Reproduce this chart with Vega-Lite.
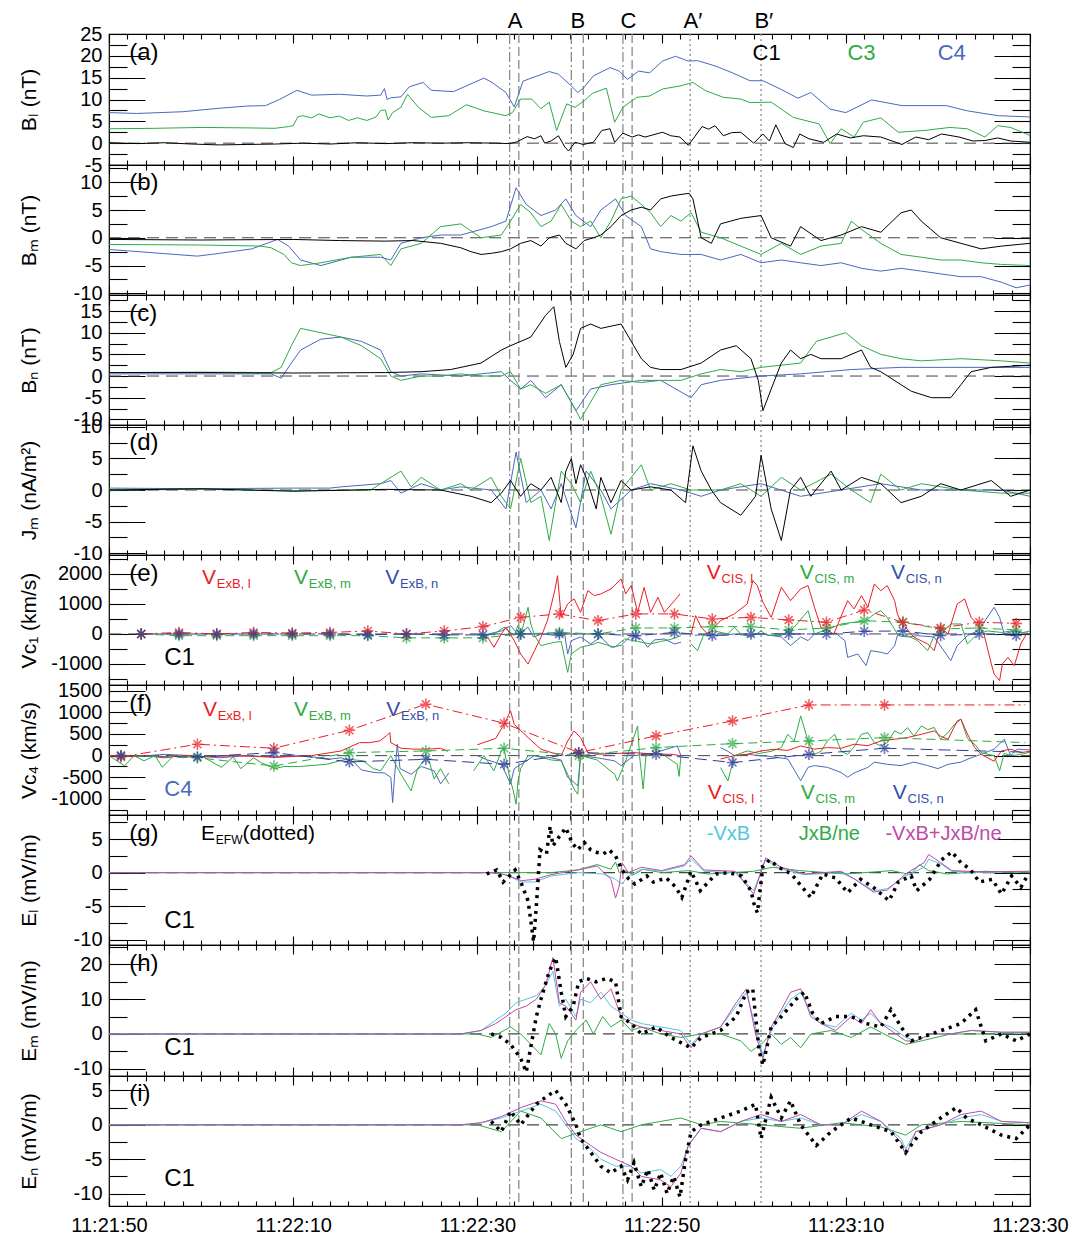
{
"$schema":"https://vega.github.io/schema/vega-lite/v6.json",
"padding":{"left":17,"top":9,"right":10,"bottom":5},
"background":"white",
"spacing":0,
"bounds":"flush",
"config":{"view":{"stroke":"black","strokeWidth":1.2},"legend":{"disable":true},
"axis":{"domain":false,"grid":false,"tickColor":"black","tickWidth":1.1,"labelFont":"Liberation Sans","labelFontSize":20,"labelColor":"black","labelPadding":7,"labelOverlap":false,"labelFlush":false,"labelBound":false,"titleFont":"Liberation Sans","titleFontSize":21,"titleFontWeight":"normal","titleColor":"black"},
"text":{"font":"Liberation Sans"}},
"datasets":{
"zero":[{"t0":0,"t1":100,"v":0}],
"vl":[{"t":43.5,"k":"dd"},{"t":44.5,"k":"d"},{"t":50.2,"k":"dd"},{"t":51.5,"k":"d"},{"t":55.8,"k":"dd"},{"t":56.8,"k":"d"},{"t":63.1,"k":"o"},{"t":70.8,"k":"o"}],
"a1":[{"t":0,"v":0.1},{"t":3,"v":-0.1},{"t":6,"v":0.1},{"t":9,"v":-0.2},{"t":12,"v":-0.4},{"t":15,"v":-0.3},{"t":18,"v":-0.2},{"t":21,"v":0},{"t":24,"v":-0.2},{"t":27,"v":0.1},{"t":30,"v":-0.1},{"t":33,"v":0.1},{"t":36,"v":0},{"t":39,"v":0.1},{"t":42,"v":0},{"t":43.5,"v":-0.1},{"t":44.3,"v":0.3},{"t":45.4,"v":1.5},{"t":46.2,"v":1.0},{"t":46.9,"v":1.7},{"t":47.3,"v":0},{"t":48.0,"v":0.5},{"t":48.8,"v":1.7},{"t":49.5,"v":-0.9},{"t":49.9,"v":-1.8},{"t":50.6,"v":0.2},{"t":51.5,"v":-0.3},{"t":52.6,"v":0.2},{"t":53.5,"v":2.9},{"t":54.4,"v":3.3},{"t":54.9,"v":0.2},{"t":55.8,"v":2.3},{"t":56.8,"v":1.4},{"t":57.5,"v":1.9},{"t":58.2,"v":1.4},{"t":60.1,"v":2.5},{"t":61.0,"v":1.7},{"t":62.0,"v":1.4},{"t":62.9,"v":-0.5},{"t":63.6,"v":1.5},{"t":64.4,"v":3.8},{"t":65.1,"v":3.2},{"t":65.8,"v":4.0},{"t":66.7,"v":1.7},{"t":67.6,"v":2.4},{"t":68.6,"v":2.5},{"t":70.0,"v":0},{"t":71.0,"v":2.1},{"t":71.7,"v":0.5},{"t":72.4,"v":4.2},{"t":73.4,"v":-0.1},{"t":74.3,"v":-1.0},{"t":75.0,"v":2.1},{"t":76.0,"v":1.0},{"t":77.6,"v":0.2},{"t":79.0,"v":2.1},{"t":80.5,"v":1.2},{"t":81.9,"v":1.7},{"t":83.8,"v":1.4},{"t":86.1,"v":-0.3},{"t":87.6,"v":1.4},{"t":89.0,"v":0.8},{"t":90.4,"v":2.1},{"t":92.3,"v":1.4},{"t":93.8,"v":0.5},{"t":95.1,"v":0.6},{"t":96.5,"v":1.2},{"t":97.9,"v":0.5},{"t":100,"v":0.2}],
"a3":[{"t":0,"v":3.3},{"t":5,"v":3.4},{"t":10,"v":3.6},{"t":15,"v":3.5},{"t":18,"v":3.4},{"t":19.5,"v":3.8},{"t":20.0,"v":4.0},{"t":20.5,"v":6.0},{"t":21.0,"v":6.3},{"t":22.0,"v":5.8},{"t":22.8,"v":6.7},{"t":24,"v":5.8},{"t":25,"v":6.2},{"t":26,"v":5.2},{"t":27,"v":5.8},{"t":28,"v":5.2},{"t":29,"v":6.0},{"t":29.5,"v":7.5},{"t":30.0,"v":7.6},{"t":30.3,"v":5.3},{"t":30.8,"v":7.0},{"t":31.7,"v":8.2},{"t":32.4,"v":11.2},{"t":33.6,"v":8.2},{"t":35.0,"v":5.9},{"t":36.9,"v":6.3},{"t":38.8,"v":8.8},{"t":40.7,"v":7.4},{"t":43.1,"v":6.3},{"t":43.8,"v":7.0},{"t":44.7,"v":10.1},{"t":45.9,"v":10.1},{"t":46.9,"v":7.9},{"t":47.8,"v":9.4},{"t":48.6,"v":2.9},{"t":49.7,"v":9.0},{"t":50.6,"v":8.2},{"t":51.6,"v":9.7},{"t":52.5,"v":11.4},{"t":54.0,"v":12.6},{"t":54.9,"v":4.8},{"t":55.8,"v":8.2},{"t":57.3,"v":10.5},{"t":58.7,"v":10.8},{"t":60.1,"v":12.4},{"t":62.0,"v":13.1},{"t":63.4,"v":13.9},{"t":64.8,"v":12.0},{"t":66.7,"v":10.5},{"t":68.6,"v":10.1},{"t":69.6,"v":9.3},{"t":71.9,"v":9.4},{"t":74.3,"v":5.9},{"t":77.1,"v":4.4},{"t":78.3,"v":-0.1},{"t":79.5,"v":3.3},{"t":80.9,"v":1.4},{"t":81.9,"v":4.8},{"t":83.8,"v":5.8},{"t":85.7,"v":2.5},{"t":88.5,"v":2.9},{"t":91.3,"v":3.6},{"t":93.2,"v":3.3},{"t":95.1,"v":1.4},{"t":96.5,"v":4.0},{"t":97.9,"v":3.6},{"t":100,"v":1.75}],
"a4":[{"t":0,"v":7.0},{"t":3,"v":6.8},{"t":8,"v":7.2},{"t":12,"v":8.0},{"t":15,"v":8.5},{"t":17,"v":8.6},{"t":18.5,"v":10.0},{"t":20.4,"v":12.1},{"t":22,"v":11.0},{"t":25,"v":11.2},{"t":28,"v":10.8},{"t":29.5,"v":11.0},{"t":29.9,"v":12.5},{"t":30.2,"v":10.0},{"t":30.6,"v":10.4},{"t":31.7,"v":10.6},{"t":32.6,"v":12.9},{"t":34.1,"v":13.9},{"t":35.0,"v":12.1},{"t":37.4,"v":11.8},{"t":40.7,"v":14.9},{"t":41.6,"v":13.9},{"t":43.1,"v":11.6},{"t":44.0,"v":8.3},{"t":44.95,"v":14.2},{"t":47.8,"v":16.4},{"t":48.8,"v":15.8},{"t":50.2,"v":13.1},{"t":50.9,"v":11.6},{"t":51.5,"v":12.6},{"t":52.6,"v":15.4},{"t":54.4,"v":17.3},{"t":55.4,"v":16.5},{"t":56.3,"v":14.6},{"t":57.5,"v":16.5},{"t":58.7,"v":16.1},{"t":60.1,"v":18.8},{"t":61.5,"v":19.9},{"t":62.9,"v":18.8},{"t":63.9,"v":18.9},{"t":65.8,"v":17.7},{"t":67.7,"v":16.1},{"t":69.6,"v":14.3},{"t":71.0,"v":14.3},{"t":72.9,"v":12.4},{"t":74.8,"v":10.3},{"t":76.2,"v":11.6},{"t":78.3,"v":7.8},{"t":80.0,"v":7.0},{"t":82.8,"v":9.9},{"t":86.1,"v":8.6},{"t":90.9,"v":8.6},{"t":93.2,"v":7.4},{"t":96.5,"v":6.3},{"t":100,"v":6.0}],
"b1":[{"t":0,"v":-0.3},{"t":10,"v":-0.4},{"t":20,"v":-0.3},{"t":25,"v":-0.5},{"t":30,"v":-0.6},{"t":33,"v":-0.5},{"t":36,"v":-1.0},{"t":38.2,"v":-1.8},{"t":39.3,"v":-2.5},{"t":40.4,"v":-3.0},{"t":41.5,"v":-2.8},{"t":42.6,"v":-2.5},{"t":43.6,"v":-2.0},{"t":44.7,"v":-1.0},{"t":45.8,"v":-0.5},{"t":46.9,"v":-1.5},{"t":47.8,"v":0},{"t":48.9,"v":0.5},{"t":49.6,"v":-1.0},{"t":50.7,"v":-2.0},{"t":51.6,"v":-0.5},{"t":52.6,"v":0},{"t":53.4,"v":0.5},{"t":54.5,"v":2.0},{"t":55.6,"v":4.0},{"t":56.7,"v":5.0},{"t":57.8,"v":5.5},{"t":58.8,"v":5.0},{"t":59.9,"v":7.0},{"t":61.0,"v":7.5},{"t":62.1,"v":7.8},{"t":63.0,"v":8.0},{"t":63.4,"v":7.0},{"t":64.3,"v":0},{"t":65.4,"v":-1.0},{"t":66.4,"v":2.5},{"t":68.6,"v":3.5},{"t":70.8,"v":4.0},{"t":71.9,"v":0},{"t":74.0,"v":-1.5},{"t":75.1,"v":2.0},{"t":77.3,"v":-0.5},{"t":79.5,"v":0.5},{"t":81.7,"v":2.0},{"t":83.8,"v":1.0},{"t":86.0,"v":4.5},{"t":87.1,"v":5.0},{"t":88.2,"v":3.0},{"t":90.3,"v":0},{"t":92.5,"v":-1.0},{"t":94.7,"v":-2.0},{"t":96.9,"v":-1.5},{"t":100,"v":-1.0}],
"b3":[{"t":0,"v":-1.2},{"t":10,"v":-1.3},{"t":16.5,"v":-1.5},{"t":17.6,"v":-1.8},{"t":19.0,"v":-3.0},{"t":19.8,"v":-4.5},{"t":20.8,"v":-5.0},{"t":23.0,"v":-4.5},{"t":26.3,"v":-3.5},{"t":29.5,"v":-3.0},{"t":30.6,"v":-5.0},{"t":31.7,"v":-2.0},{"t":33.9,"v":-1.0},{"t":36.0,"v":2.0},{"t":38.2,"v":2.5},{"t":40.4,"v":0},{"t":42.6,"v":0.5},{"t":43.6,"v":3.0},{"t":44.7,"v":6.0},{"t":45.8,"v":4.5},{"t":46.9,"v":2.0},{"t":48.0,"v":3.0},{"t":49.1,"v":6.0},{"t":50.2,"v":3.0},{"t":51.2,"v":2.0},{"t":52.3,"v":3.0},{"t":53.4,"v":0},{"t":54.5,"v":3.0},{"t":55.6,"v":7.0},{"t":56.7,"v":7.5},{"t":57.8,"v":6.0},{"t":58.8,"v":4.5},{"t":59.9,"v":2.0},{"t":61.0,"v":4.0},{"t":62.1,"v":3.0},{"t":63.2,"v":4.5},{"t":64.3,"v":1.0},{"t":66.4,"v":0},{"t":68.6,"v":-1.5},{"t":70.8,"v":-3.0},{"t":73.0,"v":-1.0},{"t":75.1,"v":-3.0},{"t":77.3,"v":-1.5},{"t":79.5,"v":-1.0},{"t":80.6,"v":3.0},{"t":81.7,"v":1.5},{"t":83.8,"v":-1.0},{"t":86.0,"v":-3.0},{"t":88.2,"v":-3.5},{"t":90.3,"v":-4.0},{"t":92.5,"v":-4.0},{"t":94.7,"v":-4.5},{"t":96.9,"v":-4.8},{"t":100,"v":-5.0}],
"b4":[{"t":0,"v":-2.1},{"t":9.6,"v":-3.3},{"t":12,"v":-2.8},{"t":15.5,"v":-2.0},{"t":18.3,"v":-0.3},{"t":19.5,"v":-1.5},{"t":20.8,"v":-4.0},{"t":23.0,"v":-5.0},{"t":26.3,"v":-3.5},{"t":29.5,"v":-3.5},{"t":30.6,"v":-4.0},{"t":31.7,"v":-1.0},{"t":33.9,"v":0},{"t":36.0,"v":0.5},{"t":38.2,"v":0.5},{"t":39.3,"v":1.0},{"t":41.5,"v":2.0},{"t":43.1,"v":3.0},{"t":44.2,"v":9.0},{"t":45.3,"v":6.0},{"t":46.9,"v":4.0},{"t":48.5,"v":5.0},{"t":49.6,"v":7.0},{"t":50.7,"v":4.0},{"t":52.3,"v":2.0},{"t":53.4,"v":5.0},{"t":55.0,"v":7.0},{"t":56.1,"v":4.0},{"t":57.8,"v":2.0},{"t":58.8,"v":-2.0},{"t":59.9,"v":-2.5},{"t":62.1,"v":-3.0},{"t":64.3,"v":-3.0},{"t":66.4,"v":-4.0},{"t":68.6,"v":-3.0},{"t":70.8,"v":-4.5},{"t":73.0,"v":-4.0},{"t":75.1,"v":-4.5},{"t":77.3,"v":-5.0},{"t":79.5,"v":-4.5},{"t":81.7,"v":-5.5},{"t":83.8,"v":-6.0},{"t":86.0,"v":-5.5},{"t":88.2,"v":-6.0},{"t":90.3,"v":-6.5},{"t":92.5,"v":-7.0},{"t":94.7,"v":-7.0},{"t":96.9,"v":-8.0},{"t":98.5,"v":-9.0},{"t":100,"v":-8.5}],
"c1":[{"t":0,"v":0.8},{"t":10,"v":0.8},{"t":20,"v":0.7},{"t":30,"v":0.8},{"t":33.9,"v":1.0},{"t":37.1,"v":1.5},{"t":40.4,"v":3.0},{"t":42.6,"v":6.0},{"t":43.6,"v":7.0},{"t":45.8,"v":9.0},{"t":47.4,"v":14.0},{"t":48.3,"v":16.0},{"t":48.9,"v":8.0},{"t":49.6,"v":2.0},{"t":50.4,"v":5.0},{"t":51.2,"v":11.0},{"t":52.3,"v":12.0},{"t":53.4,"v":11.0},{"t":54.5,"v":11.5},{"t":55.6,"v":12.0},{"t":56.7,"v":8.0},{"t":57.8,"v":4.0},{"t":58.8,"v":2.0},{"t":59.9,"v":1.5},{"t":62.1,"v":1.5},{"t":64.3,"v":3.0},{"t":66.4,"v":6.0},{"t":68.1,"v":7.0},{"t":69.7,"v":4.0},{"t":70.5,"v":-1.0},{"t":71.0,"v":-8.0},{"t":71.9,"v":-3.0},{"t":73.0,"v":3.0},{"t":74.0,"v":6.0},{"t":75.1,"v":4.0},{"t":76.2,"v":5.0},{"t":77.3,"v":4.0},{"t":79.5,"v":4.0},{"t":81.7,"v":6.0},{"t":82.7,"v":2.0},{"t":83.8,"v":1.0},{"t":86.0,"v":-2.0},{"t":87.1,"v":-3.5},{"t":89.3,"v":-5.0},{"t":91.4,"v":-5.0},{"t":92.5,"v":-2.0},{"t":93.6,"v":1.0},{"t":95.8,"v":2.0},{"t":100,"v":2.5}],
"c3":[{"t":0,"v":0.8},{"t":10,"v":0.9},{"t":17.6,"v":0.8},{"t":18.7,"v":2.0},{"t":19.8,"v":7.0},{"t":20.8,"v":11.0},{"t":23.0,"v":10.0},{"t":25.2,"v":9.0},{"t":27.4,"v":7.0},{"t":29.5,"v":4.0},{"t":30.6,"v":0},{"t":31.7,"v":-1.0},{"t":33.9,"v":0},{"t":36.0,"v":0},{"t":38.2,"v":0.5},{"t":40.4,"v":0},{"t":42.6,"v":0},{"t":43.6,"v":1.0},{"t":44.7,"v":-3.0},{"t":45.8,"v":-2.0},{"t":47.4,"v":-4.0},{"t":49.1,"v":-2.0},{"t":50.2,"v":-6.0},{"t":51.2,"v":-10.0},{"t":52.3,"v":-6.0},{"t":53.4,"v":-2.0},{"t":55.6,"v":-1.0},{"t":57.8,"v":-1.5},{"t":59.9,"v":-1.0},{"t":62.1,"v":-1.0},{"t":64.3,"v":0.5},{"t":66.4,"v":1.5},{"t":68.6,"v":1.0},{"t":70.8,"v":2.0},{"t":73.0,"v":2.5},{"t":75.1,"v":3.0},{"t":76.8,"v":8.0},{"t":78.4,"v":9.0},{"t":80.0,"v":10.0},{"t":81.7,"v":7.0},{"t":83.8,"v":5.0},{"t":86.0,"v":4.0},{"t":88.2,"v":3.5},{"t":92.5,"v":4.0},{"t":96.9,"v":3.5},{"t":100,"v":3.0}],
"c4":[{"t":0,"v":0.5},{"t":10,"v":0.5},{"t":17.6,"v":0.5},{"t":18.7,"v":-0.5},{"t":19.8,"v":3.0},{"t":20.8,"v":6.0},{"t":23.0,"v":8.5},{"t":25.2,"v":9.0},{"t":27.4,"v":8.0},{"t":29.5,"v":6.0},{"t":30.6,"v":1.0},{"t":31.7,"v":0},{"t":33.9,"v":0.5},{"t":38.2,"v":0},{"t":40.4,"v":0.5},{"t":42.6,"v":1.0},{"t":43.6,"v":-1.0},{"t":44.7,"v":-3.0},{"t":45.8,"v":-1.0},{"t":47.4,"v":-5.0},{"t":49.1,"v":-2.0},{"t":50.7,"v":-8.0},{"t":52.3,"v":-3.0},{"t":54.5,"v":-2.0},{"t":57.8,"v":-1.0},{"t":59.9,"v":-1.0},{"t":63.2,"v":-5.0},{"t":64.3,"v":-2.0},{"t":66.4,"v":-1.0},{"t":70.8,"v":0},{"t":75.1,"v":0.5},{"t":80.6,"v":1.5},{"t":86.0,"v":2.0},{"t":100,"v":2.0}],
"d1":[{"t":0,"v":0},{"t":10,"v":0.2},{"t":20,"v":-0.2},{"t":30,"v":0.1},{"t":36.0,"v":0},{"t":39.3,"v":-1.0},{"t":41.5,"v":-2.0},{"t":42.6,"v":-0.5},{"t":43.6,"v":1.5},{"t":44.7,"v":-1.0},{"t":45.8,"v":1.0},{"t":46.9,"v":0},{"t":48.0,"v":2.0},{"t":49.1,"v":-2.0},{"t":49.6,"v":3.0},{"t":50.2,"v":5.0},{"t":50.7,"v":1.0},{"t":51.2,"v":4.0},{"t":51.8,"v":2.0},{"t":52.9,"v":-3.0},{"t":53.4,"v":2.0},{"t":54.5,"v":-2.0},{"t":55.6,"v":1.5},{"t":56.7,"v":0},{"t":58.8,"v":0.5},{"t":61.0,"v":0},{"t":62.6,"v":-2.0},{"t":63.4,"v":7.0},{"t":64.3,"v":3.0},{"t":65.4,"v":0},{"t":66.4,"v":-2.0},{"t":68.6,"v":-4.0},{"t":70.2,"v":-1.0},{"t":70.8,"v":5.5},{"t":71.9,"v":-3.0},{"t":73.0,"v":-8.0},{"t":74.0,"v":0},{"t":75.1,"v":2.0},{"t":76.2,"v":-1.0},{"t":78.4,"v":3.0},{"t":79.5,"v":0},{"t":81.7,"v":2.0},{"t":83.8,"v":1.0},{"t":86.0,"v":-2.0},{"t":88.2,"v":-1.0},{"t":90.3,"v":1.0},{"t":92.5,"v":0},{"t":95.8,"v":1.5},{"t":97.9,"v":-1.0},{"t":100,"v":0}],
"d3":[{"t":0,"v":0},{"t":10,"v":0.1},{"t":20,"v":-0.1},{"t":28.4,"v":0},{"t":29.5,"v":1.0},{"t":31.7,"v":3.0},{"t":32.8,"v":0.5},{"t":33.9,"v":2.0},{"t":36.0,"v":0},{"t":38.2,"v":1.0},{"t":39.3,"v":0},{"t":41.5,"v":2.0},{"t":42.6,"v":-1.0},{"t":43.6,"v":-3.0},{"t":44.7,"v":5.0},{"t":45.8,"v":-2.0},{"t":46.9,"v":-1.0},{"t":47.8,"v":-8.0},{"t":48.5,"v":-2.0},{"t":49.1,"v":3.0},{"t":50.2,"v":1.0},{"t":51.2,"v":-2.0},{"t":52.3,"v":3.0},{"t":53.4,"v":-1.0},{"t":54.5,"v":-7.0},{"t":55.6,"v":0},{"t":57.8,"v":4.0},{"t":58.8,"v":0},{"t":61.0,"v":1.0},{"t":63.2,"v":0},{"t":66.4,"v":0},{"t":68.6,"v":1.0},{"t":70.8,"v":-1.0},{"t":73.0,"v":2.0},{"t":75.1,"v":0},{"t":78.4,"v":2.5},{"t":80.6,"v":0},{"t":82.7,"v":-2.0},{"t":83.8,"v":2.5},{"t":86.0,"v":0},{"t":88.2,"v":1.0},{"t":92.5,"v":0},{"t":96.9,"v":-0.5},{"t":100,"v":-0.5}],
"d4":[{"t":0,"v":0.3},{"t":10,"v":0.2},{"t":20,"v":0.3},{"t":24,"v":0.3},{"t":25.2,"v":0.5},{"t":29.5,"v":1.0},{"t":30.6,"v":1.5},{"t":31.7,"v":-0.5},{"t":33.9,"v":1.0},{"t":36.0,"v":0},{"t":38.2,"v":0.5},{"t":41.5,"v":0},{"t":43.1,"v":-3.0},{"t":44.2,"v":6.0},{"t":45.3,"v":-2.0},{"t":46.9,"v":0},{"t":48.0,"v":-3.0},{"t":49.1,"v":1.0},{"t":50.7,"v":-6.0},{"t":51.8,"v":3.0},{"t":53.4,"v":0},{"t":54.5,"v":-3.0},{"t":56.7,"v":0},{"t":58.8,"v":1.0},{"t":62.1,"v":0},{"t":64.3,"v":-1.0},{"t":66.4,"v":0},{"t":70.8,"v":1.0},{"t":75.1,"v":-1.0},{"t":79.5,"v":0},{"t":83.8,"v":1.0},{"t":88.2,"v":0},{"t":96.9,"v":0},{"t":100,"v":-1.0}],
"el":[{"t":40.4,"v":0},{"t":41.1,"v":-100},{"t":41.8,"v":-444},{"t":42.6,"v":0},{"t":43.1,"v":222},{"t":44.0,"v":-222},{"t":44.7,"v":-667},{"t":45.5,"v":-1000},{"t":46.2,"v":-556},{"t":46.9,"v":-111},{"t":47.6,"v":443},{"t":48.4,"v":1443},{"t":48.7,"v":1943},{"t":49.1,"v":553},{"t":49.8,"v":1000},{"t":50.5,"v":1167},{"t":51.2,"v":720},{"t":52.0,"v":1443},{"t":52.7,"v":1277},{"t":53.4,"v":1333},{"t":54.5,"v":1500},{"t":55.6,"v":1833},{"t":56.1,"v":1333},{"t":56.7,"v":1610},{"t":57.4,"v":720},{"t":58.1,"v":1550},{"t":58.8,"v":720},{"t":59.6,"v":1220},{"t":60.3,"v":720},{"t":61.4,"v":1110},{"t":62.0,"v":1333},{"t":62.5,"v":null},{"t":63.2,"v":0},{"t":63.7,"v":610},{"t":64.3,"v":222},{"t":65.0,"v":0},{"t":66.4,"v":443},{"t":67.9,"v":667},{"t":69.3,"v":1000},{"t":69.9,"v":1777},{"t":70.4,"v":1610},{"t":71.0,"v":1055},{"t":71.9,"v":553},{"t":73.0,"v":1555},{"t":74.0,"v":1110},{"t":75.1,"v":1500},{"t":75.9,"v":1610},{"t":76.6,"v":890},{"t":77.3,"v":222},{"t":78.7,"v":0},{"t":80.2,"v":1110},{"t":80.9,"v":833},{"t":81.7,"v":1277},{"t":82.4,"v":890},{"t":83.1,"v":1667},{"t":83.8,"v":1440},{"t":84.5,"v":1610},{"t":85.3,"v":1110},{"t":85.6,"v":667},{"t":86.0,"v":400},{"t":87.4,"v":-111},{"t":88.9,"v":-333},{"t":89.6,"v":-556},{"t":90.3,"v":222},{"t":91.1,"v":0},{"t":92.1,"v":1000},{"t":92.9,"v":1167},{"t":93.6,"v":553},{"t":94.3,"v":333},{"t":95.0,"v":0},{"t":95.8,"v":-1000},{"t":96.1,"v":-1333},{"t":96.7,"v":-1555},{"t":97.0,"v":-1000},{"t":97.6,"v":-778},{"t":98.3,"v":-1055},{"t":99.0,"v":-333},{"t":99.7,"v":55}],
"em":[{"t":40.4,"v":-50},{"t":41.8,"v":0},{"t":42.9,"v":222},{"t":44.0,"v":-50},{"t":44.4,"v":280},{"t":44.7,"v":-50},{"t":45.5,"v":887},{"t":45.8,"v":333},{"t":46.2,"v":-50},{"t":46.9,"v":-390},{"t":47.6,"v":-333},{"t":48.4,"v":-277},{"t":49.1,"v":-250},{"t":49.8,"v":-1277},{"t":50.2,"v":-667},{"t":51.2,"v":-444},{"t":52.7,"v":-333},{"t":53.1,"v":-277},{"t":54.9,"v":-444},{"t":56.0,"v":-167},{"t":57.4,"v":-250},{"t":58.8,"v":-333},{"t":59.9,"v":-250},{"t":61.0,"v":-180},{"t":62.1,"v":-57},{"t":62.5,"v":null},{"t":63.2,"v":-333},{"t":63.9,"v":-556},{"t":64.6,"v":0},{"t":65.7,"v":100},{"t":67.2,"v":0},{"t":67.9,"v":222},{"t":68.6,"v":0},{"t":69.7,"v":-111},{"t":70.8,"v":100},{"t":71.5,"v":-50},{"t":73.0,"v":-50},{"t":74.4,"v":222},{"t":75.9,"v":777},{"t":76.6,"v":0},{"t":78.0,"v":150},{"t":79.5,"v":333},{"t":80.9,"v":390},{"t":82.0,"v":400},{"t":83.1,"v":667},{"t":83.8,"v":777},{"t":84.5,"v":553},{"t":85.6,"v":0},{"t":86.7,"v":-57},{"t":87.8,"v":-222},{"t":88.9,"v":-556},{"t":89.6,"v":-50},{"t":90.3,"v":0},{"t":91.4,"v":333},{"t":92.5,"v":333},{"t":93.2,"v":-333},{"t":94.3,"v":0},{"t":95.4,"v":100},{"t":96.9,"v":50},{"t":98.0,"v":100},{"t":99.3,"v":50},{"t":100,"v":100}],
"en":[{"t":40.4,"v":-57},{"t":42.6,"v":100},{"t":43.6,"v":277},{"t":44.4,"v":0},{"t":45.5,"v":222},{"t":46.1,"v":-100},{"t":47.0,"v":0},{"t":48.5,"v":-50},{"t":49.5,"v":-50},{"t":49.8,"v":-667},{"t":50.2,"v":-222},{"t":51.2,"v":-100},{"t":52.3,"v":-333},{"t":53.4,"v":-100},{"t":54.5,"v":-444},{"t":55.6,"v":-380},{"t":56.7,"v":-50},{"t":57.8,"v":-167},{"t":58.5,"v":-444},{"t":59.2,"v":-200},{"t":60.3,"v":-167},{"t":61.4,"v":-333},{"t":62.1,"v":-277},{"t":62.5,"v":null},{"t":63.6,"v":-50},{"t":65.0,"v":0},{"t":66.4,"v":-50},{"t":67.9,"v":0},{"t":69.3,"v":-50},{"t":70.8,"v":0},{"t":73.0,"v":-100},{"t":74.0,"v":-390},{"t":75.1,"v":-100},{"t":75.9,"v":-222},{"t":76.6,"v":0},{"t":79.0,"v":0},{"t":79.9,"v":-222},{"t":80.2,"v":-777},{"t":81.3,"v":-667},{"t":82.2,"v":-1055},{"t":82.7,"v":-555},{"t":83.8,"v":-610},{"t":84.5,"v":-667},{"t":85.3,"v":-390},{"t":85.6,"v":-50},{"t":86.7,"v":-100},{"t":87.8,"v":-57},{"t":89.6,"v":-100},{"t":91.4,"v":-890},{"t":92.1,"v":-390},{"t":93.2,"v":-57},{"t":94.3,"v":100},{"t":95.0,"v":390},{"t":96.1,"v":887},{"t":96.7,"v":553},{"t":97.2,"v":0},{"t":98.3,"v":100},{"t":100,"v":0}],
"exl":[{"t":3.5,"v":0},{"t":7.6,"v":50},{"t":11.7,"v":0},{"t":15.7,"v":50},{"t":19.9,"v":30},{"t":24.0,"v":50},{"t":28.1,"v":100},{"t":32.3,"v":0},{"t":36.4,"v":100},{"t":40.6,"v":243},{"t":44.7,"v":553},{"t":48.9,"v":667},{"t":53.1,"v":443},{"t":57.2,"v":667},{"t":61.4,"v":667},{"t":65.5,"v":500},{"t":69.7,"v":553},{"t":73.8,"v":467},{"t":77.9,"v":390},{"t":82.0,"v":800},{"t":86.2,"v":390},{"t":90.3,"v":200},{"t":94.5,"v":390},{"t":98.5,"v":353}],
"exm":[{"t":3.5,"v":0},{"t":7.6,"v":-57},{"t":11.7,"v":-57},{"t":15.7,"v":-57},{"t":19.9,"v":-57},{"t":24.0,"v":-57},{"t":28.1,"v":-57},{"t":32.3,"v":-130},{"t":36.4,"v":-130},{"t":40.6,"v":-130},{"t":44.7,"v":0},{"t":48.9,"v":50},{"t":53.1,"v":0},{"t":57.2,"v":200},{"t":61.4,"v":200},{"t":65.5,"v":243},{"t":69.7,"v":243},{"t":73.8,"v":133},{"t":77.9,"v":200},{"t":82.0,"v":443},{"t":86.2,"v":390},{"t":90.3,"v":167},{"t":94.5,"v":200},{"t":98.5,"v":133}],
"exn":[{"t":3.5,"v":0},{"t":7.6,"v":0},{"t":11.7,"v":0},{"t":15.7,"v":0},{"t":19.9,"v":0},{"t":24.0,"v":0},{"t":28.1,"v":-30},{"t":32.3,"v":0},{"t":36.4,"v":-30},{"t":40.6,"v":-30},{"t":44.7,"v":0},{"t":48.9,"v":0},{"t":53.1,"v":0},{"t":57.2,"v":-57},{"t":61.4,"v":50},{"t":65.5,"v":-57},{"t":69.7,"v":0},{"t":73.8,"v":0},{"t":77.9,"v":0},{"t":82.0,"v":90},{"t":86.2,"v":100},{"t":90.3,"v":-50},{"t":94.5,"v":0},{"t":98.5,"v":-50}],
"fl":[{"t":0,"v":0},{"t":2,"v":-20},{"t":4,"v":0},{"t":6,"v":-50},{"t":8,"v":0},{"t":10,"v":-30},{"t":14,"v":0},{"t":18,"v":-40},{"t":22,"v":0},{"t":25.2,"v":108},{"t":27.2,"v":300},{"t":28.3,"v":300},{"t":29.4,"v":340},{"t":30.1,"v":455},{"t":30.5,"v":531},{"t":30.6,"v":300},{"t":31.7,"v":170},{"t":33.1,"v":150},{"t":34.6,"v":150},{"t":36.0,"v":170},{"t":36.8,"v":100},{"t":37.5,"v":null},{"t":40.0,"v":250},{"t":42.0,"v":400},{"t":42.9,"v":723},{"t":43.6,"v":1032},{"t":44.0,"v":723},{"t":45.5,"v":416},{"t":46.9,"v":147},{"t":49.1,"v":0},{"t":49.8,"v":339},{"t":50.5,"v":570},{"t":51.2,"v":416},{"t":52.0,"v":70},{"t":53.0,"v":30},{"t":55.0,"v":50},{"t":57.0,"v":70},{"t":59.0,"v":40},{"t":61.0,"v":30},{"t":62.1,"v":0},{"t":63.0,"v":null},{"t":66.4,"v":-77},{"t":67.9,"v":0},{"t":69.3,"v":30},{"t":70.8,"v":108},{"t":72.2,"v":147},{"t":73.7,"v":120},{"t":75.1,"v":224},{"t":76.6,"v":150},{"t":78.0,"v":185},{"t":79.5,"v":170},{"t":80.9,"v":262},{"t":82.4,"v":230},{"t":83.8,"v":339},{"t":85.3,"v":378},{"t":86.7,"v":416},{"t":88.2,"v":493},{"t":89.6,"v":570},{"t":90.3,"v":450},{"t":91.1,"v":378},{"t":92.1,"v":801},{"t":92.5,"v":840},{"t":93.2,"v":500},{"t":94.0,"v":185},{"t":94.7,"v":30},{"t":96.1,"v":-130},{"t":96.9,"v":108},{"t":97.9,"v":150},{"t":99.0,"v":70},{"t":100,"v":100}],
"fm":[{"t":0,"v":0},{"t":1.7,"v":-238},{"t":2.7,"v":0},{"t":3.8,"v":-120},{"t":5.0,"v":0},{"t":5.8,"v":-270},{"t":7.0,"v":0},{"t":8.0,"v":-50},{"t":10.0,"v":0},{"t":12.2,"v":-270},{"t":13.5,"v":-30},{"t":14.3,"v":-300},{"t":15.7,"v":-50},{"t":16.5,"v":-160},{"t":18.0,"v":-300},{"t":19.0,"v":-250},{"t":20.8,"v":-250},{"t":23.6,"v":-200},{"t":25.8,"v":-80},{"t":27.6,"v":-120},{"t":28.7,"v":-300},{"t":29.5,"v":-350},{"t":30.6,"v":0},{"t":31.7,"v":-430},{"t":32.8,"v":-815},{"t":33.5,"v":-300},{"t":34.6,"v":0},{"t":35.3,"v":-540},{"t":36.0,"v":-300},{"t":36.9,"v":-650},{"t":37.5,"v":null},{"t":39.6,"v":-350},{"t":40.7,"v":0},{"t":41.8,"v":-350},{"t":42.6,"v":110},{"t":42.9,"v":150},{"t":43.5,"v":-500},{"t":43.9,"v":-815},{"t":44.2,"v":-1122},{"t":44.4,"v":-600},{"t":44.7,"v":-300},{"t":45.5,"v":0},{"t":46.2,"v":0},{"t":48.0,"v":-100},{"t":49.1,"v":-120},{"t":49.8,"v":-430},{"t":50.5,"v":-770},{"t":50.9,"v":-890},{"t":51.2,"v":0},{"t":53.0,"v":-100},{"t":54.9,"v":-430},{"t":55.2,"v":-585},{"t":55.8,"v":-280},{"t":56.3,"v":0},{"t":57.4,"v":686},{"t":57.6,"v":0},{"t":58.0,"v":-770},{"t":58.3,"v":0},{"t":60.0,"v":50},{"t":61.7,"v":-200},{"t":61.9,"v":-480},{"t":62.1,"v":0},{"t":63.0,"v":null},{"t":66.4,"v":-277},{"t":67.2,"v":-585},{"t":67.9,"v":0},{"t":69.3,"v":108},{"t":70.6,"v":50},{"t":71.9,"v":100},{"t":73.0,"v":185},{"t":73.7,"v":493},{"t":74.4,"v":339},{"t":75.1,"v":917},{"t":75.9,"v":339},{"t":76.6,"v":30},{"t":77.3,"v":100},{"t":78.0,"v":339},{"t":78.8,"v":493},{"t":79.5,"v":100},{"t":80.2,"v":30},{"t":80.9,"v":200},{"t":81.7,"v":493},{"t":82.4,"v":531},{"t":83.1,"v":300},{"t":83.8,"v":224},{"t":84.5,"v":300},{"t":85.3,"v":570},{"t":86.0,"v":500},{"t":86.7,"v":647},{"t":87.4,"v":450},{"t":88.2,"v":686},{"t":88.9,"v":600},{"t":89.6,"v":650},{"t":90.3,"v":378},{"t":91.1,"v":531},{"t":91.8,"v":724},{"t":92.5,"v":840},{"t":93.2,"v":400},{"t":94.0,"v":262},{"t":94.7,"v":70},{"t":96.1,"v":0},{"t":96.7,"v":-350},{"t":97.2,"v":50},{"t":98.0,"v":0},{"t":99.0,"v":30},{"t":100,"v":80}],
"fn":[{"t":0,"v":0},{"t":3,"v":-20},{"t":6,"v":30},{"t":9,"v":0},{"t":12,"v":-50},{"t":15,"v":0},{"t":18,"v":-30},{"t":21,"v":0},{"t":24,"v":-80},{"t":25.2,"v":-50},{"t":26.6,"v":-150},{"t":27.4,"v":-330},{"t":28.8,"v":-390},{"t":29.9,"v":-400},{"t":30.6,"v":-500},{"t":30.8,"v":-1085},{"t":31.0,"v":-500},{"t":31.3,"v":262},{"t":31.6,"v":-300},{"t":32.8,"v":-430},{"t":33.9,"v":-250},{"t":35.3,"v":-350},{"t":36.0,"v":-650},{"t":36.9,"v":-400},{"t":37.5,"v":null},{"t":40.0,"v":0},{"t":41.1,"v":-100},{"t":42.6,"v":-200},{"t":43.6,"v":-650},{"t":44.0,"v":-300},{"t":46.2,"v":0},{"t":48.0,"v":-50},{"t":49.1,"v":-100},{"t":49.8,"v":-500},{"t":50.5,"v":-620},{"t":50.9,"v":-700},{"t":51.2,"v":0},{"t":53.0,"v":-50},{"t":54.9,"v":-120},{"t":55.6,"v":-230},{"t":57.0,"v":0},{"t":59.0,"v":50},{"t":61.7,"v":224},{"t":62.1,"v":0},{"t":63.0,"v":null},{"t":66.4,"v":185},{"t":67.2,"v":100},{"t":67.9,"v":0},{"t":69.3,"v":30},{"t":70.8,"v":0},{"t":72.2,"v":-30},{"t":73.7,"v":-77},{"t":75.1,"v":-580},{"t":75.9,"v":-270},{"t":76.6,"v":-230},{"t":78.0,"v":-270},{"t":79.5,"v":-390},{"t":80.2,"v":-500},{"t":80.9,"v":-400},{"t":82.4,"v":-270},{"t":83.1,"v":-150},{"t":84.5,"v":-200},{"t":86.0,"v":-230},{"t":87.4,"v":-150},{"t":88.9,"v":-230},{"t":90.0,"v":-300},{"t":91.1,"v":-200},{"t":92.5,"v":-150},{"t":93.6,"v":-50},{"t":94.7,"v":30},{"t":96.1,"v":150},{"t":97.2,"v":378},{"t":97.9,"v":0},{"t":98.6,"v":150},{"t":100,"v":130}],
"fxl":[{"t":1.3,"v":-30},{"t":9.6,"v":263},{"t":17.9,"v":170},{"t":26.1,"v":586},{"t":34.4,"v":1187},{"t":42.9,"v":748},{"t":51.0,"v":70},{"t":59.4,"v":455},{"t":67.7,"v":801},{"t":76.0,"v":1170},{"t":84.2,"v":1170}],
"fxm":[{"t":1.3,"v":0},{"t":9.6,"v":-50},{"t":17.9,"v":-238},{"t":26.1,"v":70},{"t":34.4,"v":108},{"t":42.9,"v":170},{"t":51.0,"v":0},{"t":59.4,"v":185},{"t":67.7,"v":277},{"t":76.0,"v":339},{"t":84.2,"v":416}],
"fxn":[{"t":1.3,"v":0},{"t":9.6,"v":-30},{"t":17.9,"v":70},{"t":26.1,"v":-145},{"t":34.4,"v":-85},{"t":42.9,"v":-200},{"t":51.0,"v":70},{"t":59.4,"v":30},{"t":67.7,"v":-160},{"t":76.0,"v":30},{"t":84.2,"v":170}],
"fxle":[{"t":84.2,"v":1170},{"t":99.5,"v":1170}],
"fxme":[{"t":84.2,"v":416},{"t":99.5,"v":300}],
"fxne":[{"t":84.2,"v":170},{"t":99.5,"v":80}],
"ge":[{"t":41.0,"v":-0.2},{"t":42.1,"v":0.4},{"t":42.8,"v":-1.4},{"t":44.1,"v":0.4},{"t":44.8,"v":-1.7},{"t":45.5,"v":-4.2},{"t":45.8,"v":-7.2},{"t":46.1,"v":-10.3},{"t":46.4,"v":-5},{"t":46.8,"v":3.4},{"t":47.5,"v":2.8},{"t":47.9,"v":6.9},{"t":48.2,"v":4.0},{"t":48.9,"v":5.4},{"t":49.6,"v":6.7},{"t":50.3,"v":4.4},{"t":50.9,"v":3.4},{"t":51.6,"v":4.5},{"t":52.3,"v":3.4},{"t":53.0,"v":3.0},{"t":53.7,"v":2.8},{"t":54.3,"v":3.4},{"t":55.0,"v":2.5},{"t":55.7,"v":0.4},{"t":56.4,"v":-0.9},{"t":57.1,"v":-1.7},{"t":58.4,"v":-0.5},{"t":59.1,"v":-1.4},{"t":60.5,"v":-0.8},{"t":61.5,"v":-2.1},{"t":62.2,"v":-3.7},{"t":63.2,"v":0.2},{"t":64.2,"v":-2.7},{"t":65.9,"v":-0.2},{"t":67.3,"v":0},{"t":68.7,"v":-0.5},{"t":69.7,"v":-2.7},{"t":70.0,"v":-4.5},{"t":70.4,"v":-6.0},{"t":71.0,"v":0.9},{"t":71.7,"v":1.9},{"t":72.7,"v":0.8},{"t":74.1,"v":-0.2},{"t":74.8,"v":-1.4},{"t":76.2,"v":-3.7},{"t":77.5,"v":-0.2},{"t":78.9,"v":-0.8},{"t":80.2,"v":-3.0},{"t":81.6,"v":-1.0},{"t":83.0,"v":-2.2},{"t":84.7,"v":-4.2},{"t":85.7,"v":-1.4},{"t":87.1,"v":-0.5},{"t":87.7,"v":-2.7},{"t":89.1,"v":-1.0},{"t":90.4,"v":1.9},{"t":91.5,"v":3.1},{"t":92.5,"v":1.5},{"t":93.5,"v":0.5},{"t":94.5,"v":-1.4},{"t":95.9,"v":-1.0},{"t":96.9,"v":-3.2},{"t":98.0,"v":-0.5},{"t":99.0,"v":-2.2},{"t":99.7,"v":-0.5}],
"gv":[{"t":0,"v":0},{"t":38,"v":0},{"t":41.5,"v":0},{"t":43,"v":-0.3},{"t":44.8,"v":-1.4},{"t":46.2,"v":-1.4},{"t":48,"v":-0.5},{"t":50.9,"v":0},{"t":53.7,"v":-0.2},{"t":55.0,"v":-1.0},{"t":55.7,"v":-1.7},{"t":56.4,"v":-0.5},{"t":57.8,"v":0.5},{"t":60.0,"v":0.2},{"t":62.5,"v":1.0},{"t":63.2,"v":2.1},{"t":64.6,"v":0.2},{"t":68.0,"v":0},{"t":70.0,"v":-2.7},{"t":71.3,"v":1.9},{"t":73.0,"v":0.5},{"t":75.5,"v":-0.3},{"t":79.5,"v":0},{"t":81.0,"v":-1.0},{"t":83.0,"v":-2.7},{"t":84.5,"v":-2.4},{"t":86.5,"v":-0.5},{"t":88.5,"v":0.8},{"t":89.0,"v":2.0},{"t":90.3,"v":1.3},{"t":91.5,"v":0.2},{"t":95,"v":0},{"t":100,"v":0.2}],
"gj":[{"t":0,"v":0},{"t":48,"v":0},{"t":50.9,"v":0.4},{"t":53.0,"v":1.2},{"t":54.5,"v":0.5},{"t":55.0,"v":1.6},{"t":55.4,"v":0},{"t":56,"v":0.3},{"t":57,"v":-0.3},{"t":58,"v":0.5},{"t":60,"v":0},{"t":63,"v":0.3},{"t":65,"v":-0.2},{"t":70,"v":0.2},{"t":72,"v":0.8},{"t":75,"v":0.3},{"t":80,"v":-0.2},{"t":85,"v":0.3},{"t":87,"v":-0.3},{"t":88,"v":1.2},{"t":89,"v":0.3},{"t":91,"v":-0.2},{"t":95,"v":0.2},{"t":100,"v":0}],
"gs":[{"t":0,"v":0},{"t":41.5,"v":0},{"t":43,"v":-0.3},{"t":44.8,"v":-1.2},{"t":46.2,"v":-1.0},{"t":48,"v":-0.3},{"t":50.9,"v":0.4},{"t":53.0,"v":1.0},{"t":54.5,"v":-1.0},{"t":55.0,"v":-3.8},{"t":55.4,"v":-2.0},{"t":55.7,"v":1.5},{"t":56.4,"v":0},{"t":57.8,"v":0.8},{"t":60,"v":0.3},{"t":62.5,"v":1.2},{"t":63.2,"v":2.5},{"t":64.6,"v":0.4},{"t":68,"v":0.2},{"t":70.0,"v":-3.2},{"t":71.3,"v":2.2},{"t":73.0,"v":0.8},{"t":75.5,"v":-0.2},{"t":79.5,"v":0.2},{"t":81.0,"v":-1.0},{"t":83.0,"v":-2.9},{"t":84.5,"v":-2.6},{"t":86.5,"v":-0.2},{"t":88.5,"v":1.5},{"t":89.0,"v":2.7},{"t":90.3,"v":1.5},{"t":91.5,"v":0.3},{"t":95,"v":0.1},{"t":100,"v":0.2}],
"he":[{"t":41.5,"v":0},{"t":42.6,"v":-1},{"t":43.6,"v":-3},{"t":44.7,"v":-7},{"t":45.3,"v":-11},{"t":46.4,"v":5},{"t":46.9,"v":10},{"t":47.8,"v":18},{"t":48.5,"v":22},{"t":49.1,"v":12},{"t":49.6,"v":5},{"t":50.4,"v":8},{"t":51.0,"v":15},{"t":51.8,"v":16},{"t":52.9,"v":15},{"t":54.0,"v":16},{"t":55.0,"v":15},{"t":55.6,"v":5},{"t":56.7,"v":3},{"t":57.8,"v":0},{"t":59.4,"v":2},{"t":61.0,"v":-1},{"t":63.2,"v":-4},{"t":64.3,"v":-1},{"t":66.4,"v":1},{"t":68.1,"v":5},{"t":69.2,"v":12},{"t":69.9,"v":13},{"t":70.6,"v":-5},{"t":71.0,"v":-9},{"t":71.9,"v":2},{"t":73.0,"v":5},{"t":74.6,"v":10},{"t":75.5,"v":12},{"t":76.4,"v":6},{"t":77.3,"v":3},{"t":78.9,"v":5},{"t":80.6,"v":5},{"t":82.2,"v":3},{"t":83.8,"v":2},{"t":84.9,"v":7},{"t":86.0,"v":2},{"t":87.1,"v":-2},{"t":89.3,"v":0},{"t":92.5,"v":3},{"t":94.1,"v":7},{"t":95.2,"v":-2},{"t":96.9,"v":0},{"t":98.5,"v":-2},{"t":100,"v":0}],
"hv":[{"t":0,"v":0},{"t":38.2,"v":0},{"t":40.4,"v":1},{"t":42.0,"v":4},{"t":43.1,"v":6},{"t":44.2,"v":9},{"t":45.3,"v":10},{"t":46.4,"v":11},{"t":47.4,"v":14},{"t":48.2,"v":18},{"t":48.9,"v":8},{"t":49.6,"v":10},{"t":50.7,"v":5},{"t":51.2,"v":10},{"t":52.3,"v":9},{"t":53.4,"v":12},{"t":54.5,"v":8},{"t":55.6,"v":6},{"t":56.7,"v":4},{"t":57.8,"v":3},{"t":59.9,"v":2},{"t":62.1,"v":1},{"t":63.2,"v":-3},{"t":64.3,"v":0},{"t":66.4,"v":2},{"t":68.1,"v":8},{"t":69.2,"v":12},{"t":70.2,"v":2},{"t":71.0,"v":-6},{"t":71.9,"v":1},{"t":73.0,"v":6},{"t":74.0,"v":10},{"t":75.1,"v":12},{"t":76.2,"v":6},{"t":77.3,"v":3},{"t":78.9,"v":2},{"t":80.6,"v":6},{"t":81.7,"v":4},{"t":82.7,"v":6},{"t":83.8,"v":3},{"t":84.9,"v":2},{"t":86.5,"v":-1},{"t":87.6,"v":-2},{"t":89.3,"v":0},{"t":91.4,"v":0},{"t":93.6,"v":1},{"t":96.9,"v":0.5},{"t":100,"v":0.5}],
"hs":[{"t":0,"v":0},{"t":38.2,"v":0},{"t":40.4,"v":1},{"t":42.0,"v":3},{"t":43.1,"v":5},{"t":44.2,"v":7},{"t":45.3,"v":8},{"t":46.4,"v":10},{"t":47.4,"v":14},{"t":48.2,"v":22},{"t":48.9,"v":9},{"t":49.6,"v":8},{"t":50.7,"v":4},{"t":51.2,"v":12},{"t":52.3,"v":15},{"t":53.4,"v":10},{"t":54.5,"v":13},{"t":55.6,"v":5},{"t":56.7,"v":3},{"t":57.8,"v":2},{"t":59.9,"v":1},{"t":62.1,"v":0},{"t":63.2,"v":-4},{"t":64.3,"v":0},{"t":66.4,"v":2},{"t":68.1,"v":9},{"t":69.2,"v":13},{"t":70.2,"v":0},{"t":71.0,"v":-7},{"t":71.9,"v":2},{"t":73.0,"v":7},{"t":74.0,"v":12},{"t":75.1,"v":13},{"t":76.2,"v":5},{"t":77.3,"v":3},{"t":78.9,"v":1},{"t":80.6,"v":5},{"t":81.7,"v":3},{"t":82.7,"v":7},{"t":83.8,"v":3},{"t":84.9,"v":1},{"t":86.5,"v":-2},{"t":87.6,"v":-2},{"t":89.3,"v":0},{"t":91.4,"v":0},{"t":93.6,"v":1},{"t":96.9,"v":0.5},{"t":100,"v":0.5}],
"hj":[{"t":0,"v":0},{"t":40,"v":0},{"t":41.5,"v":-1},{"t":43.6,"v":2},{"t":44.7,"v":0},{"t":45.8,"v":-3},{"t":46.9,"v":-6},{"t":47.8,"v":3},{"t":48.5,"v":0},{"t":49.1,"v":-7},{"t":49.8,"v":-2},{"t":50.7,"v":1},{"t":51.8,"v":4},{"t":52.6,"v":0},{"t":53.6,"v":5},{"t":54.5,"v":2},{"t":55.6,"v":4},{"t":56.7,"v":1},{"t":57.8,"v":2},{"t":59.9,"v":0},{"t":62.1,"v":-1},{"t":64.3,"v":0},{"t":66.4,"v":0},{"t":68.6,"v":-2},{"t":69.7,"v":-5},{"t":70.8,"v":-3},{"t":71.9,"v":0},{"t":73.0,"v":-3},{"t":74.0,"v":-1},{"t":75.1,"v":-4},{"t":76.2,"v":0},{"t":78.4,"v":1},{"t":80.6,"v":-1},{"t":82.7,"v":2},{"t":84.9,"v":-1},{"t":86.5,"v":-3},{"t":88.2,"v":-2},{"t":91.4,"v":0},{"t":96,"v":0},{"t":100,"v":0}],
"ie":[{"t":41.5,"v":0.5},{"t":42.6,"v":-1},{"t":43.6,"v":2},{"t":44.7,"v":0},{"t":46.4,"v":3},{"t":47.4,"v":4},{"t":48.5,"v":5},{"t":49.6,"v":3},{"t":50.7,"v":0},{"t":51.2,"v":-2},{"t":52.3,"v":-4},{"t":53.4,"v":-6},{"t":54.5,"v":-7},{"t":55.6,"v":-6},{"t":56.3,"v":-8},{"t":57.0,"v":-5.5},{"t":57.8,"v":-9},{"t":58.5,"v":-6.5},{"t":59.2,"v":-9.5},{"t":59.9,"v":-7},{"t":60.6,"v":-10},{"t":61.3,"v":-7.5},{"t":62.0,"v":-10.5},{"t":62.6,"v":-5},{"t":63.2,"v":-1},{"t":64.3,"v":0},{"t":66.4,"v":1},{"t":68.6,"v":2},{"t":70.2,"v":3},{"t":70.8,"v":-2},{"t":71.9,"v":4},{"t":73.0,"v":1},{"t":74.0,"v":3.5},{"t":75.1,"v":0},{"t":76.8,"v":-3},{"t":78.4,"v":-1},{"t":80.6,"v":1},{"t":82.7,"v":0},{"t":84.9,"v":-1},{"t":86.5,"v":-4},{"t":88.2,"v":-1},{"t":90.3,"v":1},{"t":92.0,"v":2.5},{"t":93.1,"v":1},{"t":94.7,"v":0},{"t":96.9,"v":-1.5},{"t":98.5,"v":-2},{"t":100,"v":0}],
"iv":[{"t":0,"v":0},{"t":38.2,"v":0},{"t":40.4,"v":0.3},{"t":42.6,"v":1},{"t":44.7,"v":2},{"t":46.9,"v":3},{"t":48.5,"v":2},{"t":49.6,"v":0},{"t":50.7,"v":-2},{"t":52.3,"v":-3.5},{"t":53.4,"v":-5},{"t":55.0,"v":-6},{"t":56.7,"v":-6},{"t":57.8,"v":-7},{"t":59.9,"v":-6.5},{"t":61.0,"v":-7.5},{"t":62.1,"v":-6},{"t":62.9,"v":-3},{"t":64.3,"v":-0.5},{"t":66.4,"v":-1},{"t":68.6,"v":0.5},{"t":70.8,"v":1},{"t":73.0,"v":0.5},{"t":75.1,"v":1},{"t":77.3,"v":0},{"t":79.5,"v":0},{"t":81.7,"v":1.5},{"t":83.8,"v":0.5},{"t":86.0,"v":-2},{"t":86.5,"v":-3.5},{"t":87.6,"v":-1},{"t":90.3,"v":0},{"t":92.5,"v":1},{"t":94.7,"v":1.5},{"t":96.9,"v":0.5},{"t":100,"v":0.3}],
"is":[{"t":0,"v":0},{"t":38.2,"v":0},{"t":40.4,"v":0.3},{"t":42.6,"v":1.2},{"t":44.7,"v":2.5},{"t":46.9,"v":3.5},{"t":48.5,"v":3},{"t":49.6,"v":0.5},{"t":50.7,"v":-1.5},{"t":52.3,"v":-3},{"t":53.4,"v":-4},{"t":55.0,"v":-5},{"t":56.7,"v":-6},{"t":57.8,"v":-7.5},{"t":59.9,"v":-8},{"t":61.0,"v":-9},{"t":62.1,"v":-7},{"t":62.9,"v":-3},{"t":64.3,"v":-0.5},{"t":66.4,"v":-1},{"t":68.6,"v":0.5},{"t":70.8,"v":1.5},{"t":73.0,"v":0.5},{"t":75.1,"v":1.5},{"t":77.3,"v":0},{"t":79.5,"v":0},{"t":81.7,"v":2},{"t":83.8,"v":0.5},{"t":86.0,"v":-2.5},{"t":86.5,"v":-4.5},{"t":87.6,"v":-1},{"t":90.3,"v":0},{"t":92.5,"v":1.5},{"t":94.7,"v":2},{"t":96.9,"v":0.5},{"t":100,"v":0.3}],
"ij":[{"t":0,"v":0},{"t":40,"v":0},{"t":42.6,"v":-1},{"t":44.7,"v":2},{"t":46.9,"v":1},{"t":49.1,"v":-2},{"t":51.2,"v":-1},{"t":53.4,"v":0},{"t":55.6,"v":-1},{"t":57.8,"v":0},{"t":59.9,"v":0.5},{"t":62.1,"v":1},{"t":64.3,"v":0},{"t":66.4,"v":0.5},{"t":70.8,"v":0},{"t":75.1,"v":-0.5},{"t":79.5,"v":0.3},{"t":83.8,"v":-0.3},{"t":86.5,"v":-1.5},{"t":88.2,"v":0},{"t":92.5,"v":0.5},{"t":100,"v":0}]
},
"vconcat":[
{"width":921,"height":131,"resolve":{"axis":{"x":"independent","y":"independent"},"scale":{"color":"independent"}},
"layer":[
{"data":{"name":"zero"},"mark":{"type":"rule","stroke":"#444","strokeWidth":1,"strokeDash":[12,7]},"encoding":{"x":{"field":"t0","type":"quantitative","scale":{"domain":[0,100],"nice":false,"zero":false},"axis":null},"x2":{"field":"t1"},"y":{"field":"v","type":"quantitative","scale":{"domain":[-5,25],"nice":false,"zero":false},"axis":{"orient":"left","values":[-5,0,5,10,15,20,25],"ticks":false,"labelExpr":"'' + datum.value","title":"Bₗ (nT)","titleX":-80,"titleBaseline":"middle"}}}},
{"data":{"name":"zero"},"mark":{"type":"point","opacity":0},"encoding":{"x":{"field":"t0","type":"quantitative","axis":{"orient":"bottom","values":[0,20,40,60,80,100],"labels":false,"tickSize":-9,"title":null}},"y":{"field":"v","type":"quantitative","axis":{"orient":"left","values":[-5,0,5,10,15,20,25],"labels":false,"tickSize":-36,"title":null}}}},
{"data":{"name":"zero"},"mark":{"type":"point","opacity":0},"encoding":{"x":{"field":"t0","type":"quantitative","axis":{"orient":"bottom","values":[0,2,4,6,8,10,12,14,16,18,20,22,24,26,28,30,32,34,36,38,40,42,44,46,48,50,52,54,56,58,60,62,64,66,68,70,72,74,76,78,80,82,84,86,88,90,92,94,96,98,100],"labels":false,"tickSize":-5,"title":null}},"y":{"field":"v","type":"quantitative","axis":{"orient":"left","values":[-5,-2.5,0,2.5,5,7.5,10,12.5,15,17.5,20,22.5,25],"labels":false,"tickSize":-18,"title":null}}}},
{"data":{"name":"zero"},"mark":{"type":"point","opacity":0},"encoding":{"x":{"field":"t0","type":"quantitative","axis":{"orient":"top","values":[0,20,40,60,80,100],"labels":false,"tickSize":-9,"title":null}},"y":{"field":"v","type":"quantitative","axis":{"orient":"right","values":[-5,0,5,10,15,20,25],"labels":false,"tickSize":-36,"title":null}}}},
{"data":{"name":"zero"},"mark":{"type":"point","opacity":0},"encoding":{"x":{"field":"t0","type":"quantitative","axis":{"orient":"top","values":[0,2,4,6,8,10,12,14,16,18,20,22,24,26,28,30,32,34,36,38,40,42,44,46,48,50,52,54,56,58,60,62,64,66,68,70,72,74,76,78,80,82,84,86,88,90,92,94,96,98,100],"labels":false,"tickSize":-5,"title":null}},"y":{"field":"v","type":"quantitative","axis":{"orient":"right","values":[-5,-2.5,0,2.5,5,7.5,10,12.5,15,17.5,20,22.5,25],"labels":false,"tickSize":-18,"title":null}}}},
{"data":{"name":"vl"},"mark":{"type":"rule","stroke":"#8c8c8c","strokeWidth":1.3},"encoding":{"x":{"field":"t","type":"quantitative","axis":null},"strokeDash":{"field":"k","type":"nominal","scale":{"domain":["dd","d","o"],"range":[[10,3,2,3],[9,4],[2,3]]},"legend":null}}},
{"data":{"name":"a4"},"mark":{"type":"line","color":"#4a68bd","strokeWidth":1,"clip":true},"encoding":{"x":{"field":"t","type":"quantitative","axis":null},"y":{"field":"v","type":"quantitative","axis":null}}},
{"data":{"name":"a3"},"mark":{"type":"line","color":"#2eab44","strokeWidth":1,"clip":true},"encoding":{"x":{"field":"t","type":"quantitative","axis":null},"y":{"field":"v","type":"quantitative","axis":null}}},
{"data":{"name":"a1"},"mark":{"type":"line","color":"black","strokeWidth":1,"clip":true},"encoding":{"x":{"field":"t","type":"quantitative","axis":null},"y":{"field":"v","type":"quantitative","axis":null}}},
{"data":{"values":[{"t":2.2,"v":20.6,"s":"(a)"}]},"mark":{"type":"text","align":"left","baseline":"middle","fontSize":24,"color":"black"},"encoding":{"x":{"field":"t","type":"quantitative","axis":null},"y":{"field":"v","type":"quantitative","axis":null},"text":{"field":"s"}}},
{"data":{"values":[{"t":44.1,"v":28,"s":"A"},{"t":50.9,"v":28,"s":"B"},{"t":56.4,"v":28,"s":"C"},{"t":63.4,"v":28,"s":"A′"},{"t":71.1,"v":28,"s":"B′"}]},"mark":{"type":"text","align":"center","baseline":"middle","fontSize":22,"color":"black"},"encoding":{"x":{"field":"t","type":"quantitative","axis":null},"y":{"field":"v","type":"quantitative","axis":null},"text":{"field":"s"}}},
{"data":{"values":[{"t":71.4,"v":20.6,"s":"C1"},{"t":81.7,"v":20.6,"s":"C3"},{"t":91.5,"v":20.6,"s":"C4"}]},"mark":{"type":"text","align":"center","baseline":"middle","fontSize":22},"encoding":{"x":{"field":"t","type":"quantitative","axis":null},"y":{"field":"v","type":"quantitative","axis":null},"text":{"field":"s"},"color":{"field":"s","type":"nominal","scale":{"domain":["C1","C3","C4"],"range":["black","#2eab44","#4a68bd"]},"legend":null}}}
]},
{"width":921,"height":130,"resolve":{"axis":{"x":"independent","y":"independent"},"scale":{"color":"independent"}},
"layer":[
{"data":{"name":"zero"},"mark":{"type":"rule","stroke":"#444","strokeWidth":1,"strokeDash":[12,7]},"encoding":{"x":{"field":"t0","type":"quantitative","scale":{"domain":[0,100],"nice":false,"zero":false},"axis":null},"x2":{"field":"t1"},"y":{"field":"v","type":"quantitative","scale":{"domain":[-10.3,13.1],"nice":false,"zero":false},"axis":{"orient":"left","values":[-10,-5,0,5,10],"ticks":false,"labelExpr":"'' + datum.value","title":"Bₘ (nT)","titleX":-80,"titleBaseline":"middle"}}}},
{"data":{"name":"zero"},"mark":{"type":"point","opacity":0},"encoding":{"x":{"field":"t0","type":"quantitative","axis":{"orient":"bottom","values":[0,20,40,60,80,100],"labels":false,"tickSize":-9,"title":null}},"y":{"field":"v","type":"quantitative","axis":{"orient":"left","values":[-10,-5,0,5,10],"labels":false,"tickSize":-36,"title":null}}}},
{"data":{"name":"zero"},"mark":{"type":"point","opacity":0},"encoding":{"x":{"field":"t0","type":"quantitative","axis":{"orient":"bottom","values":[0,2,4,6,8,10,12,14,16,18,20,22,24,26,28,30,32,34,36,38,40,42,44,46,48,50,52,54,56,58,60,62,64,66,68,70,72,74,76,78,80,82,84,86,88,90,92,94,96,98,100],"labels":false,"tickSize":-5,"title":null}},"y":{"field":"v","type":"quantitative","axis":{"orient":"left","values":[-10,-7.5,-5,-2.5,0,2.5,5,7.5,10,12.5],"labels":false,"tickSize":-18,"title":null}}}},
{"data":{"name":"zero"},"mark":{"type":"point","opacity":0},"encoding":{"x":{"field":"t0","type":"quantitative","axis":{"orient":"top","values":[0,20,40,60,80,100],"labels":false,"tickSize":-9,"title":null}},"y":{"field":"v","type":"quantitative","axis":{"orient":"right","values":[-10,-5,0,5,10],"labels":false,"tickSize":-36,"title":null}}}},
{"data":{"name":"zero"},"mark":{"type":"point","opacity":0},"encoding":{"x":{"field":"t0","type":"quantitative","axis":{"orient":"top","values":[0,2,4,6,8,10,12,14,16,18,20,22,24,26,28,30,32,34,36,38,40,42,44,46,48,50,52,54,56,58,60,62,64,66,68,70,72,74,76,78,80,82,84,86,88,90,92,94,96,98,100],"labels":false,"tickSize":-5,"title":null}},"y":{"field":"v","type":"quantitative","axis":{"orient":"right","values":[-10,-7.5,-5,-2.5,0,2.5,5,7.5,10,12.5],"labels":false,"tickSize":-18,"title":null}}}},
{"data":{"name":"vl"},"mark":{"type":"rule","stroke":"#8c8c8c","strokeWidth":1.3},"encoding":{"x":{"field":"t","type":"quantitative","axis":null},"strokeDash":{"field":"k","type":"nominal","scale":{"domain":["dd","d","o"],"range":[[10,3,2,3],[9,4],[2,3]]},"legend":null}}},
{"data":{"name":"b4"},"mark":{"type":"line","color":"#4a68bd","strokeWidth":1,"clip":true},"encoding":{"x":{"field":"t","type":"quantitative","axis":null},"y":{"field":"v","type":"quantitative","axis":null}}},
{"data":{"name":"b3"},"mark":{"type":"line","color":"#2eab44","strokeWidth":1,"clip":true},"encoding":{"x":{"field":"t","type":"quantitative","axis":null},"y":{"field":"v","type":"quantitative","axis":null}}},
{"data":{"name":"b1"},"mark":{"type":"line","color":"black","strokeWidth":1,"clip":true},"encoding":{"x":{"field":"t","type":"quantitative","axis":null},"y":{"field":"v","type":"quantitative","axis":null}}},
{"data":{"values":[{"t":2.2,"v":9.9,"s":"(b)"}]},"mark":{"type":"text","align":"left","baseline":"middle","fontSize":24,"color":"black"},"encoding":{"x":{"field":"t","type":"quantitative","axis":null},"y":{"field":"v","type":"quantitative","axis":null},"text":{"field":"s"}}}
]},
{"width":921,"height":130,"resolve":{"axis":{"x":"independent","y":"independent"},"scale":{"color":"independent"}},
"layer":[
{"data":{"name":"zero"},"mark":{"type":"rule","stroke":"#444","strokeWidth":1,"strokeDash":[12,7]},"encoding":{"x":{"field":"t0","type":"quantitative","scale":{"domain":[0,100],"nice":false,"zero":false},"axis":null},"x2":{"field":"t1"},"y":{"field":"v","type":"quantitative","scale":{"domain":[-11.3,18.7],"nice":false,"zero":false},"axis":{"orient":"left","values":[-10,-5,0,5,10,15],"ticks":false,"labelExpr":"'' + datum.value","title":"Bₙ (nT)","titleX":-80,"titleBaseline":"middle"}}}},
{"data":{"name":"zero"},"mark":{"type":"point","opacity":0},"encoding":{"x":{"field":"t0","type":"quantitative","axis":{"orient":"bottom","values":[0,20,40,60,80,100],"labels":false,"tickSize":-9,"title":null}},"y":{"field":"v","type":"quantitative","axis":{"orient":"left","values":[-10,-5,0,5,10,15],"labels":false,"tickSize":-36,"title":null}}}},
{"data":{"name":"zero"},"mark":{"type":"point","opacity":0},"encoding":{"x":{"field":"t0","type":"quantitative","axis":{"orient":"bottom","values":[0,2,4,6,8,10,12,14,16,18,20,22,24,26,28,30,32,34,36,38,40,42,44,46,48,50,52,54,56,58,60,62,64,66,68,70,72,74,76,78,80,82,84,86,88,90,92,94,96,98,100],"labels":false,"tickSize":-5,"title":null}},"y":{"field":"v","type":"quantitative","axis":{"orient":"left","values":[-10,-7.5,-5,-2.5,0,2.5,5,7.5,10,12.5,15,17.5],"labels":false,"tickSize":-18,"title":null}}}},
{"data":{"name":"zero"},"mark":{"type":"point","opacity":0},"encoding":{"x":{"field":"t0","type":"quantitative","axis":{"orient":"top","values":[0,20,40,60,80,100],"labels":false,"tickSize":-9,"title":null}},"y":{"field":"v","type":"quantitative","axis":{"orient":"right","values":[-10,-5,0,5,10,15],"labels":false,"tickSize":-36,"title":null}}}},
{"data":{"name":"zero"},"mark":{"type":"point","opacity":0},"encoding":{"x":{"field":"t0","type":"quantitative","axis":{"orient":"top","values":[0,2,4,6,8,10,12,14,16,18,20,22,24,26,28,30,32,34,36,38,40,42,44,46,48,50,52,54,56,58,60,62,64,66,68,70,72,74,76,78,80,82,84,86,88,90,92,94,96,98,100],"labels":false,"tickSize":-5,"title":null}},"y":{"field":"v","type":"quantitative","axis":{"orient":"right","values":[-10,-7.5,-5,-2.5,0,2.5,5,7.5,10,12.5,15,17.5],"labels":false,"tickSize":-18,"title":null}}}},
{"data":{"name":"vl"},"mark":{"type":"rule","stroke":"#8c8c8c","strokeWidth":1.3},"encoding":{"x":{"field":"t","type":"quantitative","axis":null},"strokeDash":{"field":"k","type":"nominal","scale":{"domain":["dd","d","o"],"range":[[10,3,2,3],[9,4],[2,3]]},"legend":null}}},
{"data":{"name":"c4"},"mark":{"type":"line","color":"#4a68bd","strokeWidth":1,"clip":true},"encoding":{"x":{"field":"t","type":"quantitative","axis":null},"y":{"field":"v","type":"quantitative","axis":null}}},
{"data":{"name":"c3"},"mark":{"type":"line","color":"#2eab44","strokeWidth":1,"clip":true},"encoding":{"x":{"field":"t","type":"quantitative","axis":null},"y":{"field":"v","type":"quantitative","axis":null}}},
{"data":{"name":"c1"},"mark":{"type":"line","color":"black","strokeWidth":1,"clip":true},"encoding":{"x":{"field":"t","type":"quantitative","axis":null},"y":{"field":"v","type":"quantitative","axis":null}}},
{"data":{"values":[{"t":2.2,"v":14.3,"s":"(c)"}]},"mark":{"type":"text","align":"left","baseline":"middle","fontSize":24,"color":"black"},"encoding":{"x":{"field":"t","type":"quantitative","axis":null},"y":{"field":"v","type":"quantitative","axis":null},"text":{"field":"s"}}}
]},
{"width":921,"height":130,"resolve":{"axis":{"x":"independent","y":"independent"},"scale":{"color":"independent"}},
"layer":[
{"data":{"name":"zero"},"mark":{"type":"rule","stroke":"#444","strokeWidth":1,"strokeDash":[12,7]},"encoding":{"x":{"field":"t0","type":"quantitative","scale":{"domain":[0,100],"nice":false,"zero":false},"axis":null},"x2":{"field":"t1"},"y":{"field":"v","type":"quantitative","scale":{"domain":[-10.3,10.3],"nice":false,"zero":false},"axis":{"orient":"left","values":[-10,-5,0,5,10],"ticks":false,"labelExpr":"'' + datum.value","title":"Jₘ (nA/m²)","titleX":-80,"titleBaseline":"middle"}}}},
{"data":{"name":"zero"},"mark":{"type":"point","opacity":0},"encoding":{"x":{"field":"t0","type":"quantitative","axis":{"orient":"bottom","values":[0,20,40,60,80,100],"labels":false,"tickSize":-9,"title":null}},"y":{"field":"v","type":"quantitative","axis":{"orient":"left","values":[-10,-5,0,5,10],"labels":false,"tickSize":-36,"title":null}}}},
{"data":{"name":"zero"},"mark":{"type":"point","opacity":0},"encoding":{"x":{"field":"t0","type":"quantitative","axis":{"orient":"bottom","values":[0,2,4,6,8,10,12,14,16,18,20,22,24,26,28,30,32,34,36,38,40,42,44,46,48,50,52,54,56,58,60,62,64,66,68,70,72,74,76,78,80,82,84,86,88,90,92,94,96,98,100],"labels":false,"tickSize":-5,"title":null}},"y":{"field":"v","type":"quantitative","axis":{"orient":"left","values":[-10,-7.5,-5,-2.5,0,2.5,5,7.5,10],"labels":false,"tickSize":-18,"title":null}}}},
{"data":{"name":"zero"},"mark":{"type":"point","opacity":0},"encoding":{"x":{"field":"t0","type":"quantitative","axis":{"orient":"top","values":[0,20,40,60,80,100],"labels":false,"tickSize":-9,"title":null}},"y":{"field":"v","type":"quantitative","axis":{"orient":"right","values":[-10,-5,0,5,10],"labels":false,"tickSize":-36,"title":null}}}},
{"data":{"name":"zero"},"mark":{"type":"point","opacity":0},"encoding":{"x":{"field":"t0","type":"quantitative","axis":{"orient":"top","values":[0,2,4,6,8,10,12,14,16,18,20,22,24,26,28,30,32,34,36,38,40,42,44,46,48,50,52,54,56,58,60,62,64,66,68,70,72,74,76,78,80,82,84,86,88,90,92,94,96,98,100],"labels":false,"tickSize":-5,"title":null}},"y":{"field":"v","type":"quantitative","axis":{"orient":"right","values":[-10,-7.5,-5,-2.5,0,2.5,5,7.5,10],"labels":false,"tickSize":-18,"title":null}}}},
{"data":{"name":"vl"},"mark":{"type":"rule","stroke":"#8c8c8c","strokeWidth":1.3},"encoding":{"x":{"field":"t","type":"quantitative","axis":null},"strokeDash":{"field":"k","type":"nominal","scale":{"domain":["dd","d","o"],"range":[[10,3,2,3],[9,4],[2,3]]},"legend":null}}},
{"data":{"name":"d4"},"mark":{"type":"line","color":"#4a68bd","strokeWidth":1,"clip":true},"encoding":{"x":{"field":"t","type":"quantitative","axis":null},"y":{"field":"v","type":"quantitative","axis":null}}},
{"data":{"name":"d3"},"mark":{"type":"line","color":"#2eab44","strokeWidth":1,"clip":true},"encoding":{"x":{"field":"t","type":"quantitative","axis":null},"y":{"field":"v","type":"quantitative","axis":null}}},
{"data":{"name":"d1"},"mark":{"type":"line","color":"black","strokeWidth":1,"clip":true},"encoding":{"x":{"field":"t","type":"quantitative","axis":null},"y":{"field":"v","type":"quantitative","axis":null}}},
{"data":{"values":[{"t":2.2,"v":7.4,"s":"(d)"}]},"mark":{"type":"text","align":"left","baseline":"middle","fontSize":24,"color":"black"},"encoding":{"x":{"field":"t","type":"quantitative","axis":null},"y":{"field":"v","type":"quantitative","axis":null},"text":{"field":"s"}}}
]},
{"width":921,"height":130,"resolve":{"axis":{"x":"independent","y":"independent"},"scale":{"color":"independent"}},
"layer":[
{"data":{"name":"zero"},"mark":{"type":"rule","stroke":"#444","strokeWidth":1,"strokeDash":[12,7]},"encoding":{"x":{"field":"t0","type":"quantitative","scale":{"domain":[0,100],"nice":false,"zero":false},"axis":null},"x2":{"field":"t1"},"y":{"field":"v","type":"quantitative","scale":{"domain":[-1700,2630],"nice":false,"zero":false},"axis":{"orient":"left","values":[-1000,0,1000,2000],"ticks":false,"labelExpr":"'' + datum.value","title":"Vᴄ₁ (km/s)","titleX":-80,"titleBaseline":"middle"}}}},
{"data":{"name":"zero"},"mark":{"type":"point","opacity":0},"encoding":{"x":{"field":"t0","type":"quantitative","axis":{"orient":"bottom","values":[0,20,40,60,80,100],"labels":false,"tickSize":-9,"title":null}},"y":{"field":"v","type":"quantitative","axis":{"orient":"left","values":[-1000,0,1000,2000],"labels":false,"tickSize":-36,"title":null}}}},
{"data":{"name":"zero"},"mark":{"type":"point","opacity":0},"encoding":{"x":{"field":"t0","type":"quantitative","axis":{"orient":"bottom","values":[0,2,4,6,8,10,12,14,16,18,20,22,24,26,28,30,32,34,36,38,40,42,44,46,48,50,52,54,56,58,60,62,64,66,68,70,72,74,76,78,80,82,84,86,88,90,92,94,96,98,100],"labels":false,"tickSize":-5,"title":null}},"y":{"field":"v","type":"quantitative","axis":{"orient":"left","values":[-1500,-1000,-500,0,500,1000,1500,2000,2500],"labels":false,"tickSize":-18,"title":null}}}},
{"data":{"name":"zero"},"mark":{"type":"point","opacity":0},"encoding":{"x":{"field":"t0","type":"quantitative","axis":{"orient":"top","values":[0,20,40,60,80,100],"labels":false,"tickSize":-9,"title":null}},"y":{"field":"v","type":"quantitative","axis":{"orient":"right","values":[-1000,0,1000,2000],"labels":false,"tickSize":-36,"title":null}}}},
{"data":{"name":"zero"},"mark":{"type":"point","opacity":0},"encoding":{"x":{"field":"t0","type":"quantitative","axis":{"orient":"top","values":[0,2,4,6,8,10,12,14,16,18,20,22,24,26,28,30,32,34,36,38,40,42,44,46,48,50,52,54,56,58,60,62,64,66,68,70,72,74,76,78,80,82,84,86,88,90,92,94,96,98,100],"labels":false,"tickSize":-5,"title":null}},"y":{"field":"v","type":"quantitative","axis":{"orient":"right","values":[-1500,-1000,-500,0,500,1000,1500,2000,2500],"labels":false,"tickSize":-18,"title":null}}}},
{"data":{"name":"vl"},"mark":{"type":"rule","stroke":"#8c8c8c","strokeWidth":1.3},"encoding":{"x":{"field":"t","type":"quantitative","axis":null},"strokeDash":{"field":"k","type":"nominal","scale":{"domain":["dd","d","o"],"range":[[10,3,2,3],[9,4],[2,3]]},"legend":null}}},
{"data":{"name":"exn"},"mark":{"type":"line","color":"#2a3d9c","strokeWidth":1,"strokeDash":[12,6],"clip":true},"encoding":{"x":{"field":"t","type":"quantitative","axis":null},"y":{"field":"v","type":"quantitative","axis":null}}},
{"data":{"name":"exm"},"mark":{"type":"line","color":"#2eab44","strokeWidth":1,"strokeDash":[9,5],"clip":true},"encoding":{"x":{"field":"t","type":"quantitative","axis":null},"y":{"field":"v","type":"quantitative","axis":null}}},
{"data":{"name":"exl"},"mark":{"type":"line","color":"#ec1c24","strokeWidth":1,"strokeDash":[10,4,2,4],"clip":true},"encoding":{"x":{"field":"t","type":"quantitative","axis":null},"y":{"field":"v","type":"quantitative","axis":null}}},
{"data":{"name":"en"},"mark":{"type":"line","color":"#4a68bd","strokeWidth":1,"clip":true,"invalid":"break-paths-show-domains"},"encoding":{"x":{"field":"t","type":"quantitative","axis":null},"y":{"field":"v","type":"quantitative","axis":null}}},
{"data":{"name":"em"},"mark":{"type":"line","color":"#2eab44","strokeWidth":1,"clip":true,"invalid":"break-paths-show-domains"},"encoding":{"x":{"field":"t","type":"quantitative","axis":null},"y":{"field":"v","type":"quantitative","axis":null}}},
{"data":{"name":"el"},"mark":{"type":"line","color":"#ec1c24","strokeWidth":1,"clip":true,"invalid":"break-paths-show-domains"},"encoding":{"x":{"field":"t","type":"quantitative","axis":null},"y":{"field":"v","type":"quantitative","axis":null}}},
{"data":{"name":"exm"},"mark":{"type":"point","shape":"M -1 0 L 1 0 M 0 -1 L 0 1 M -0.7 -0.7 L 0.7 0.7 M -0.7 0.7 L 0.7 -0.7","filled":false,"color":"#2eab44","strokeWidth":1.6,"size":130},"encoding":{"x":{"field":"t","type":"quantitative","axis":null},"y":{"field":"v","type":"quantitative","axis":null}}},
{"data":{"name":"exl"},"mark":{"type":"point","shape":"M -1 0 L 1 0 M 0 -1 L 0 1 M -0.7 -0.7 L 0.7 0.7 M -0.7 0.7 L 0.7 -0.7","filled":false,"color":"#ec1c24","strokeWidth":1.6,"size":130},"encoding":{"x":{"field":"t","type":"quantitative","axis":null},"y":{"field":"v","type":"quantitative","axis":null}}},
{"data":{"name":"exn"},"mark":{"type":"point","shape":"M -1 0 L 1 0 M 0 -1 L 0 1 M -0.7 -0.7 L 0.7 0.7 M -0.7 0.7 L 0.7 -0.7","filled":false,"color":"#2a3d9c","strokeWidth":1.6,"size":130},"encoding":{"x":{"field":"t","type":"quantitative","axis":null},"y":{"field":"v","type":"quantitative","axis":null}}},
{"data":{"values":[{"t":2.2,"v":2010,"s":"(e)"},{"t":6.0,"v":-807,"s":"C1"}]},"mark":{"type":"text","align":"left","baseline":"middle","fontSize":24,"color":"black"},"encoding":{"x":{"field":"t","type":"quantitative","axis":null},"y":{"field":"v","type":"quantitative","axis":null},"text":{"field":"s"}}},
{"data":{"values":[{"t":10.1,"v":1677,"s":"V","c":"l"},{"t":20.1,"v":1677,"s":"V","c":"m"},{"t":30.0,"v":1677,"s":"V","c":"n"},{"t":64.9,"v":1843,"s":"V","c":"l"},{"t":75.0,"v":1843,"s":"V","c":"m"},{"t":84.9,"v":1843,"s":"V","c":"n"}]},"mark":{"type":"text","align":"left","baseline":"alphabetic","fontSize":21},"encoding":{"x":{"field":"t","type":"quantitative","axis":null},"y":{"field":"v","type":"quantitative","axis":null},"text":{"field":"s"},"color":{"field":"c","type":"nominal","scale":{"domain":["l","m","n"],"range":["#ec1c24","#2eab44","#3550aa"]},"legend":null}}},
{"data":{"values":[{"t":11.7,"v":1543,"s":"ExB, l","c":"l"},{"t":21.7,"v":1543,"s":"ExB, m","c":"m"},{"t":31.6,"v":1543,"s":"ExB, n","c":"n"},{"t":66.5,"v":1710,"s":"CIS, l","c":"l"},{"t":76.6,"v":1710,"s":"CIS, m","c":"m"},{"t":86.5,"v":1710,"s":"CIS, n","c":"n"}]},"mark":{"type":"text","align":"left","baseline":"alphabetic","fontSize":13},"encoding":{"x":{"field":"t","type":"quantitative","axis":null},"y":{"field":"v","type":"quantitative","axis":null},"text":{"field":"s"},"color":{"field":"c","type":"nominal","scale":{"domain":["l","m","n"],"range":["#ec1c24","#2eab44","#3550aa"]},"legend":null}}}
]},
{"width":921,"height":130,"resolve":{"axis":{"x":"independent","y":"independent"},"scale":{"color":"independent"}},
"layer":[
{"data":{"name":"zero"},"mark":{"type":"rule","stroke":"#444","strokeWidth":1,"strokeDash":[12,7]},"encoding":{"x":{"field":"t0","type":"quantitative","scale":{"domain":[0,100],"nice":false,"zero":false},"axis":null},"x2":{"field":"t1"},"y":{"field":"v","type":"quantitative","scale":{"domain":[-1370,1630],"nice":false,"zero":false},"axis":{"orient":"left","values":[-1000,-500,0,500,1000,1500],"ticks":false,"labelExpr":"'' + datum.value","title":"Vᴄ₄ (km/s)","titleX":-80,"titleBaseline":"middle"}}}},
{"data":{"name":"zero"},"mark":{"type":"point","opacity":0},"encoding":{"x":{"field":"t0","type":"quantitative","axis":{"orient":"bottom","values":[0,20,40,60,80,100],"labels":false,"tickSize":-9,"title":null}},"y":{"field":"v","type":"quantitative","axis":{"orient":"left","values":[-1000,-500,0,500,1000,1500],"labels":false,"tickSize":-36,"title":null}}}},
{"data":{"name":"zero"},"mark":{"type":"point","opacity":0},"encoding":{"x":{"field":"t0","type":"quantitative","axis":{"orient":"bottom","values":[0,2,4,6,8,10,12,14,16,18,20,22,24,26,28,30,32,34,36,38,40,42,44,46,48,50,52,54,56,58,60,62,64,66,68,70,72,74,76,78,80,82,84,86,88,90,92,94,96,98,100],"labels":false,"tickSize":-5,"title":null}},"y":{"field":"v","type":"quantitative","axis":{"orient":"left","values":[-1250,-1000,-750,-500,-250,0,250,500,750,1000,1250,1500],"labels":false,"tickSize":-18,"title":null}}}},
{"data":{"name":"zero"},"mark":{"type":"point","opacity":0},"encoding":{"x":{"field":"t0","type":"quantitative","axis":{"orient":"top","values":[0,20,40,60,80,100],"labels":false,"tickSize":-9,"title":null}},"y":{"field":"v","type":"quantitative","axis":{"orient":"right","values":[-1000,-500,0,500,1000,1500],"labels":false,"tickSize":-36,"title":null}}}},
{"data":{"name":"zero"},"mark":{"type":"point","opacity":0},"encoding":{"x":{"field":"t0","type":"quantitative","axis":{"orient":"top","values":[0,2,4,6,8,10,12,14,16,18,20,22,24,26,28,30,32,34,36,38,40,42,44,46,48,50,52,54,56,58,60,62,64,66,68,70,72,74,76,78,80,82,84,86,88,90,92,94,96,98,100],"labels":false,"tickSize":-5,"title":null}},"y":{"field":"v","type":"quantitative","axis":{"orient":"right","values":[-1250,-1000,-750,-500,-250,0,250,500,750,1000,1250,1500],"labels":false,"tickSize":-18,"title":null}}}},
{"data":{"name":"vl"},"mark":{"type":"rule","stroke":"#8c8c8c","strokeWidth":1.3},"encoding":{"x":{"field":"t","type":"quantitative","axis":null},"strokeDash":{"field":"k","type":"nominal","scale":{"domain":["dd","d","o"],"range":[[10,3,2,3],[9,4],[2,3]]},"legend":null}}},
{"data":{"name":"fn"},"mark":{"type":"line","color":"#4a68bd","strokeWidth":1,"clip":true,"invalid":"break-paths-show-domains"},"encoding":{"x":{"field":"t","type":"quantitative","axis":null},"y":{"field":"v","type":"quantitative","axis":null}}},
{"data":{"name":"fm"},"mark":{"type":"line","color":"#2eab44","strokeWidth":1,"clip":true,"invalid":"break-paths-show-domains"},"encoding":{"x":{"field":"t","type":"quantitative","axis":null},"y":{"field":"v","type":"quantitative","axis":null}}},
{"data":{"name":"fl"},"mark":{"type":"line","color":"#ec1c24","strokeWidth":1,"clip":true,"invalid":"break-paths-show-domains"},"encoding":{"x":{"field":"t","type":"quantitative","axis":null},"y":{"field":"v","type":"quantitative","axis":null}}},
{"data":{"name":"fxn"},"mark":{"type":"line","color":"#2a3d9c","strokeWidth":1,"strokeDash":[12,6],"clip":true},"encoding":{"x":{"field":"t","type":"quantitative","axis":null},"y":{"field":"v","type":"quantitative","axis":null}}},
{"data":{"name":"fxm"},"mark":{"type":"line","color":"#2eab44","strokeWidth":1,"strokeDash":[9,5],"clip":true},"encoding":{"x":{"field":"t","type":"quantitative","axis":null},"y":{"field":"v","type":"quantitative","axis":null}}},
{"data":{"name":"fxl"},"mark":{"type":"line","color":"#ec1c24","strokeWidth":1,"strokeDash":[10,4,2,4],"clip":true},"encoding":{"x":{"field":"t","type":"quantitative","axis":null},"y":{"field":"v","type":"quantitative","axis":null}}},
{"data":{"name":"fxne"},"mark":{"type":"line","color":"#2a3d9c","strokeWidth":1,"strokeDash":[12,6],"clip":true},"encoding":{"x":{"field":"t","type":"quantitative","axis":null},"y":{"field":"v","type":"quantitative","axis":null}}},
{"data":{"name":"fxme"},"mark":{"type":"line","color":"#2eab44","strokeWidth":1,"strokeDash":[9,5],"clip":true},"encoding":{"x":{"field":"t","type":"quantitative","axis":null},"y":{"field":"v","type":"quantitative","axis":null}}},
{"data":{"name":"fxle"},"mark":{"type":"line","color":"#ec1c24","strokeWidth":1,"strokeDash":[10,4,2,4],"clip":true},"encoding":{"x":{"field":"t","type":"quantitative","axis":null},"y":{"field":"v","type":"quantitative","axis":null}}},
{"data":{"name":"fxm"},"mark":{"type":"point","shape":"M -1 0 L 1 0 M 0 -1 L 0 1 M -0.7 -0.7 L 0.7 0.7 M -0.7 0.7 L 0.7 -0.7","filled":false,"color":"#2eab44","strokeWidth":1.6,"size":130},"encoding":{"x":{"field":"t","type":"quantitative","axis":null},"y":{"field":"v","type":"quantitative","axis":null}}},
{"data":{"name":"fxl"},"mark":{"type":"point","shape":"M -1 0 L 1 0 M 0 -1 L 0 1 M -0.7 -0.7 L 0.7 0.7 M -0.7 0.7 L 0.7 -0.7","filled":false,"color":"#ec1c24","strokeWidth":1.6,"size":130},"encoding":{"x":{"field":"t","type":"quantitative","axis":null},"y":{"field":"v","type":"quantitative","axis":null}}},
{"data":{"name":"fxn"},"mark":{"type":"point","shape":"M -1 0 L 1 0 M 0 -1 L 0 1 M -0.7 -0.7 L 0.7 0.7 M -0.7 0.7 L 0.7 -0.7","filled":false,"color":"#2a3d9c","strokeWidth":1.6,"size":130},"encoding":{"x":{"field":"t","type":"quantitative","axis":null},"y":{"field":"v","type":"quantitative","axis":null}}},
{"data":{"values":[{"t":2.2,"v":1194,"s":"(f)"}]},"mark":{"type":"text","align":"left","baseline":"middle","fontSize":24,"color":"black"},"encoding":{"x":{"field":"t","type":"quantitative","axis":null},"y":{"field":"v","type":"quantitative","axis":null},"text":{"field":"s"}}},
{"data":{"values":[{"t":6.0,"v":-770,"s":"C4"}]},"mark":{"type":"text","align":"left","baseline":"middle","fontSize":22,"color":"#4a68bd"},"encoding":{"x":{"field":"t","type":"quantitative","axis":null},"y":{"field":"v","type":"quantitative","axis":null},"text":{"field":"s"}}},
{"data":{"values":[{"t":10.2,"v":917,"s":"V","c":"l"},{"t":20.1,"v":917,"s":"V","c":"m"},{"t":30.1,"v":917,"s":"V","c":"n"},{"t":65.0,"v":-1000,"s":"V","c":"l"},{"t":75.1,"v":-1000,"s":"V","c":"m"},{"t":85.1,"v":-1000,"s":"V","c":"n"}]},"mark":{"type":"text","align":"left","baseline":"alphabetic","fontSize":21},"encoding":{"x":{"field":"t","type":"quantitative","axis":null},"y":{"field":"v","type":"quantitative","axis":null},"text":{"field":"s"},"color":{"field":"c","type":"nominal","scale":{"domain":["l","m","n"],"range":["#ec1c24","#2eab44","#3550aa"]},"legend":null}}},
{"data":{"values":[{"t":11.8,"v":824,"s":"ExB, l","c":"l"},{"t":21.7,"v":824,"s":"ExB, m","c":"m"},{"t":31.7,"v":824,"s":"ExB, n","c":"n"},{"t":66.6,"v":-1092,"s":"CIS, l","c":"l"},{"t":76.7,"v":-1092,"s":"CIS, m","c":"m"},{"t":86.7,"v":-1092,"s":"CIS, n","c":"n"}]},"mark":{"type":"text","align":"left","baseline":"alphabetic","fontSize":13},"encoding":{"x":{"field":"t","type":"quantitative","axis":null},"y":{"field":"v","type":"quantitative","axis":null},"text":{"field":"s"},"color":{"field":"c","type":"nominal","scale":{"domain":["l","m","n"],"range":["#ec1c24","#2eab44","#3550aa"]},"legend":null}}}
]},
{"width":921,"height":130,"resolve":{"axis":{"x":"independent","y":"independent"},"scale":{"color":"independent"}},
"layer":[
{"data":{"name":"zero"},"mark":{"type":"rule","stroke":"#444","strokeWidth":1.3,"strokeDash":[12,7]},"encoding":{"x":{"field":"t0","type":"quantitative","scale":{"domain":[0,100],"nice":false,"zero":false},"axis":null},"x2":{"field":"t1"},"y":{"field":"v","type":"quantitative","scale":{"domain":[-10.8,8.6],"nice":false,"zero":false},"axis":{"orient":"left","values":[-10,-5,0,5],"ticks":false,"labelExpr":"'' + datum.value","title":"Eₗ (mV/m)","titleX":-80,"titleBaseline":"middle"}}}},
{"data":{"name":"zero"},"mark":{"type":"point","opacity":0},"encoding":{"x":{"field":"t0","type":"quantitative","axis":{"orient":"bottom","values":[0,20,40,60,80,100],"labels":false,"tickSize":-9,"title":null}},"y":{"field":"v","type":"quantitative","axis":{"orient":"left","values":[-10,-5,0,5],"labels":false,"tickSize":-36,"title":null}}}},
{"data":{"name":"zero"},"mark":{"type":"point","opacity":0},"encoding":{"x":{"field":"t0","type":"quantitative","axis":{"orient":"bottom","values":[0,2,4,6,8,10,12,14,16,18,20,22,24,26,28,30,32,34,36,38,40,42,44,46,48,50,52,54,56,58,60,62,64,66,68,70,72,74,76,78,80,82,84,86,88,90,92,94,96,98,100],"labels":false,"tickSize":-5,"title":null}},"y":{"field":"v","type":"quantitative","axis":{"orient":"left","values":[-10,-7.5,-5,-2.5,0,2.5,5,7.5],"labels":false,"tickSize":-18,"title":null}}}},
{"data":{"name":"zero"},"mark":{"type":"point","opacity":0},"encoding":{"x":{"field":"t0","type":"quantitative","axis":{"orient":"top","values":[0,20,40,60,80,100],"labels":false,"tickSize":-9,"title":null}},"y":{"field":"v","type":"quantitative","axis":{"orient":"right","values":[-10,-5,0,5],"labels":false,"tickSize":-36,"title":null}}}},
{"data":{"name":"zero"},"mark":{"type":"point","opacity":0},"encoding":{"x":{"field":"t0","type":"quantitative","axis":{"orient":"top","values":[0,2,4,6,8,10,12,14,16,18,20,22,24,26,28,30,32,34,36,38,40,42,44,46,48,50,52,54,56,58,60,62,64,66,68,70,72,74,76,78,80,82,84,86,88,90,92,94,96,98,100],"labels":false,"tickSize":-5,"title":null}},"y":{"field":"v","type":"quantitative","axis":{"orient":"right","values":[-10,-7.5,-5,-2.5,0,2.5,5,7.5],"labels":false,"tickSize":-18,"title":null}}}},
{"data":{"name":"vl"},"mark":{"type":"rule","stroke":"#8c8c8c","strokeWidth":1.3},"encoding":{"x":{"field":"t","type":"quantitative","axis":null},"strokeDash":{"field":"k","type":"nominal","scale":{"domain":["dd","d","o"],"range":[[10,3,2,3],[9,4],[2,3]]},"legend":null}}},
{"data":{"name":"gj"},"mark":{"type":"line","color":"#2eab44","strokeWidth":1,"clip":true},"encoding":{"x":{"field":"t","type":"quantitative","axis":null},"y":{"field":"v","type":"quantitative","axis":null}}},
{"data":{"name":"gv"},"mark":{"type":"line","color":"#52c6dc","strokeWidth":1,"clip":true},"encoding":{"x":{"field":"t","type":"quantitative","axis":null},"y":{"field":"v","type":"quantitative","axis":null}}},
{"data":{"name":"gs"},"mark":{"type":"line","color":"#c04aa6","strokeWidth":1,"clip":true},"encoding":{"x":{"field":"t","type":"quantitative","axis":null},"y":{"field":"v","type":"quantitative","axis":null}}},
{"data":{"name":"ge"},"mark":{"type":"line","color":"black","strokeWidth":3.5,"strokeDash":[3,5],"clip":true},"encoding":{"x":{"field":"t","type":"quantitative","axis":null},"y":{"field":"v","type":"quantitative","axis":null}}},
{"data":{"values":[{"t":2.2,"v":5.7,"s":"(g)"},{"t":6.0,"v":-7.2,"s":"C1"}]},"mark":{"type":"text","align":"left","baseline":"middle","fontSize":24,"color":"black"},"encoding":{"x":{"field":"t","type":"quantitative","axis":null},"y":{"field":"v","type":"quantitative","axis":null},"text":{"field":"s"}}},
{"data":{"values":[{"t":10.0,"v":4.9,"s":"E"},{"t":14.5,"v":4.9,"s":"(dotted)"}]},"mark":{"type":"text","align":"left","baseline":"alphabetic","fontSize":21,"color":"black"},"encoding":{"x":{"field":"t","type":"quantitative","axis":null},"y":{"field":"v","type":"quantitative","axis":null},"text":{"field":"s"}}},
{"data":{"values":[{"t":11.6,"v":4.3,"s":"EFW"}]},"mark":{"type":"text","align":"left","baseline":"alphabetic","fontSize":12,"color":"black"},"encoding":{"x":{"field":"t","type":"quantitative","axis":null},"y":{"field":"v","type":"quantitative","axis":null},"text":{"field":"s"}}},
{"data":{"values":[{"t":64.9,"v":5.7,"s":"-VxB","c":"v"},{"t":74.9,"v":5.7,"s":"JxB/ne","c":"j"},{"t":84.3,"v":5.7,"s":"-VxB+JxB/ne","c":"s"}]},"mark":{"type":"text","align":"left","baseline":"middle","fontSize":20},"encoding":{"x":{"field":"t","type":"quantitative","axis":null},"y":{"field":"v","type":"quantitative","axis":null},"text":{"field":"s"},"color":{"field":"c","type":"nominal","scale":{"domain":["v","j","s"],"range":["#52c6dc","#2eab44","#c04aa6"]},"legend":null}}}
]},
{"width":921,"height":131,"resolve":{"axis":{"x":"independent","y":"independent"},"scale":{"color":"independent"}},
"layer":[
{"data":{"name":"zero"},"mark":{"type":"rule","stroke":"#444","strokeWidth":1.3,"strokeDash":[12,7]},"encoding":{"x":{"field":"t0","type":"quantitative","scale":{"domain":[0,100],"nice":false,"zero":false},"axis":null},"x2":{"field":"t1"},"y":{"field":"v","type":"quantitative","scale":{"domain":[-12.1,25.6],"nice":false,"zero":false},"axis":{"orient":"left","values":[-10,0,10,20],"ticks":false,"labelExpr":"'' + datum.value","title":"Eₘ (mV/m)","titleX":-80,"titleBaseline":"middle"}}}},
{"data":{"name":"zero"},"mark":{"type":"point","opacity":0},"encoding":{"x":{"field":"t0","type":"quantitative","axis":{"orient":"bottom","values":[0,20,40,60,80,100],"labels":false,"tickSize":-9,"title":null}},"y":{"field":"v","type":"quantitative","axis":{"orient":"left","values":[-10,0,10,20],"labels":false,"tickSize":-36,"title":null}}}},
{"data":{"name":"zero"},"mark":{"type":"point","opacity":0},"encoding":{"x":{"field":"t0","type":"quantitative","axis":{"orient":"bottom","values":[0,2,4,6,8,10,12,14,16,18,20,22,24,26,28,30,32,34,36,38,40,42,44,46,48,50,52,54,56,58,60,62,64,66,68,70,72,74,76,78,80,82,84,86,88,90,92,94,96,98,100],"labels":false,"tickSize":-5,"title":null}},"y":{"field":"v","type":"quantitative","axis":{"orient":"left","values":[-10,-5,0,5,10,15,20,25],"labels":false,"tickSize":-18,"title":null}}}},
{"data":{"name":"zero"},"mark":{"type":"point","opacity":0},"encoding":{"x":{"field":"t0","type":"quantitative","axis":{"orient":"top","values":[0,20,40,60,80,100],"labels":false,"tickSize":-9,"title":null}},"y":{"field":"v","type":"quantitative","axis":{"orient":"right","values":[-10,0,10,20],"labels":false,"tickSize":-36,"title":null}}}},
{"data":{"name":"zero"},"mark":{"type":"point","opacity":0},"encoding":{"x":{"field":"t0","type":"quantitative","axis":{"orient":"top","values":[0,2,4,6,8,10,12,14,16,18,20,22,24,26,28,30,32,34,36,38,40,42,44,46,48,50,52,54,56,58,60,62,64,66,68,70,72,74,76,78,80,82,84,86,88,90,92,94,96,98,100],"labels":false,"tickSize":-5,"title":null}},"y":{"field":"v","type":"quantitative","axis":{"orient":"right","values":[-10,-5,0,5,10,15,20,25],"labels":false,"tickSize":-18,"title":null}}}},
{"data":{"name":"vl"},"mark":{"type":"rule","stroke":"#8c8c8c","strokeWidth":1.3},"encoding":{"x":{"field":"t","type":"quantitative","axis":null},"strokeDash":{"field":"k","type":"nominal","scale":{"domain":["dd","d","o"],"range":[[10,3,2,3],[9,4],[2,3]]},"legend":null}}},
{"data":{"name":"hj"},"mark":{"type":"line","color":"#2eab44","strokeWidth":1,"clip":true},"encoding":{"x":{"field":"t","type":"quantitative","axis":null},"y":{"field":"v","type":"quantitative","axis":null}}},
{"data":{"name":"hv"},"mark":{"type":"line","color":"#52c6dc","strokeWidth":1,"clip":true},"encoding":{"x":{"field":"t","type":"quantitative","axis":null},"y":{"field":"v","type":"quantitative","axis":null}}},
{"data":{"name":"hs"},"mark":{"type":"line","color":"#c04aa6","strokeWidth":1,"clip":true},"encoding":{"x":{"field":"t","type":"quantitative","axis":null},"y":{"field":"v","type":"quantitative","axis":null}}},
{"data":{"name":"he"},"mark":{"type":"line","color":"black","strokeWidth":3.5,"strokeDash":[3,5],"clip":true},"encoding":{"x":{"field":"t","type":"quantitative","axis":null},"y":{"field":"v","type":"quantitative","axis":null}}},
{"data":{"values":[{"t":2.2,"v":20.2,"s":"(h)"},{"t":6.0,"v":-4.0,"s":"C1"}]},"mark":{"type":"text","align":"left","baseline":"middle","fontSize":24,"color":"black"},"encoding":{"x":{"field":"t","type":"quantitative","axis":null},"y":{"field":"v","type":"quantitative","axis":null},"text":{"field":"s"}}}
]},
{"width":921,"height":130,"resolve":{"axis":{"x":"independent","y":"independent"},"scale":{"color":"independent"}},
"layer":[
{"data":{"name":"zero"},"mark":{"type":"rule","stroke":"#444","strokeWidth":1.3,"strokeDash":[12,7]},"encoding":{"x":{"field":"t0","type":"quantitative","scale":{"domain":[0,100],"nice":false,"zero":false},"axis":{"orient":"bottom","values":[0,20,40,60,80,100],"ticks":false,"labelExpr":"['11:21:50','11:22:10','11:22:30','11:22:50','11:23:10','11:23:30'][round(datum.value / 20)]","labelPadding":9,"title":null}},"x2":{"field":"t1"},"y":{"field":"v","type":"quantitative","scale":{"domain":[-11.8,7.1],"nice":false,"zero":false},"axis":{"orient":"left","values":[-10,-5,0,5],"ticks":false,"labelExpr":"'' + datum.value","title":"Eₙ (mV/m)","titleX":-80,"titleBaseline":"middle"}}}},
{"data":{"name":"zero"},"mark":{"type":"point","opacity":0},"encoding":{"x":{"field":"t0","type":"quantitative","axis":{"orient":"bottom","values":[0,20,40,60,80,100],"labels":false,"tickSize":-9,"title":null}},"y":{"field":"v","type":"quantitative","axis":{"orient":"left","values":[-10,-5,0,5],"labels":false,"tickSize":-36,"title":null}}}},
{"data":{"name":"zero"},"mark":{"type":"point","opacity":0},"encoding":{"x":{"field":"t0","type":"quantitative","axis":{"orient":"bottom","values":[0,2,4,6,8,10,12,14,16,18,20,22,24,26,28,30,32,34,36,38,40,42,44,46,48,50,52,54,56,58,60,62,64,66,68,70,72,74,76,78,80,82,84,86,88,90,92,94,96,98,100],"labels":false,"tickSize":-5,"title":null}},"y":{"field":"v","type":"quantitative","axis":{"orient":"left","values":[-10,-7.5,-5,-2.5,0,2.5,5],"labels":false,"tickSize":-18,"title":null}}}},
{"data":{"name":"zero"},"mark":{"type":"point","opacity":0},"encoding":{"x":{"field":"t0","type":"quantitative","axis":{"orient":"top","values":[0,20,40,60,80,100],"labels":false,"tickSize":-9,"title":null}},"y":{"field":"v","type":"quantitative","axis":{"orient":"right","values":[-10,-5,0,5],"labels":false,"tickSize":-36,"title":null}}}},
{"data":{"name":"zero"},"mark":{"type":"point","opacity":0},"encoding":{"x":{"field":"t0","type":"quantitative","axis":{"orient":"top","values":[0,2,4,6,8,10,12,14,16,18,20,22,24,26,28,30,32,34,36,38,40,42,44,46,48,50,52,54,56,58,60,62,64,66,68,70,72,74,76,78,80,82,84,86,88,90,92,94,96,98,100],"labels":false,"tickSize":-5,"title":null}},"y":{"field":"v","type":"quantitative","axis":{"orient":"right","values":[-10,-7.5,-5,-2.5,0,2.5,5],"labels":false,"tickSize":-18,"title":null}}}},
{"data":{"name":"vl"},"mark":{"type":"rule","stroke":"#8c8c8c","strokeWidth":1.3},"encoding":{"x":{"field":"t","type":"quantitative","axis":null},"strokeDash":{"field":"k","type":"nominal","scale":{"domain":["dd","d","o"],"range":[[10,3,2,3],[9,4],[2,3]]},"legend":null}}},
{"data":{"name":"ij"},"mark":{"type":"line","color":"#2eab44","strokeWidth":1,"clip":true},"encoding":{"x":{"field":"t","type":"quantitative","axis":null},"y":{"field":"v","type":"quantitative","axis":null}}},
{"data":{"name":"iv"},"mark":{"type":"line","color":"#52c6dc","strokeWidth":1,"clip":true},"encoding":{"x":{"field":"t","type":"quantitative","axis":null},"y":{"field":"v","type":"quantitative","axis":null}}},
{"data":{"name":"is"},"mark":{"type":"line","color":"#c04aa6","strokeWidth":1,"clip":true},"encoding":{"x":{"field":"t","type":"quantitative","axis":null},"y":{"field":"v","type":"quantitative","axis":null}}},
{"data":{"name":"ie"},"mark":{"type":"line","color":"black","strokeWidth":3.5,"strokeDash":[3,5],"clip":true},"encoding":{"x":{"field":"t","type":"quantitative","axis":null},"y":{"field":"v","type":"quantitative","axis":null}}},
{"data":{"values":[{"t":2.2,"v":4.5,"s":"(i)"},{"t":6.0,"v":-7.9,"s":"C1"}]},"mark":{"type":"text","align":"left","baseline":"middle","fontSize":24,"color":"black"},"encoding":{"x":{"field":"t","type":"quantitative","axis":null},"y":{"field":"v","type":"quantitative","axis":null},"text":{"field":"s"}}}
]}
]
}
